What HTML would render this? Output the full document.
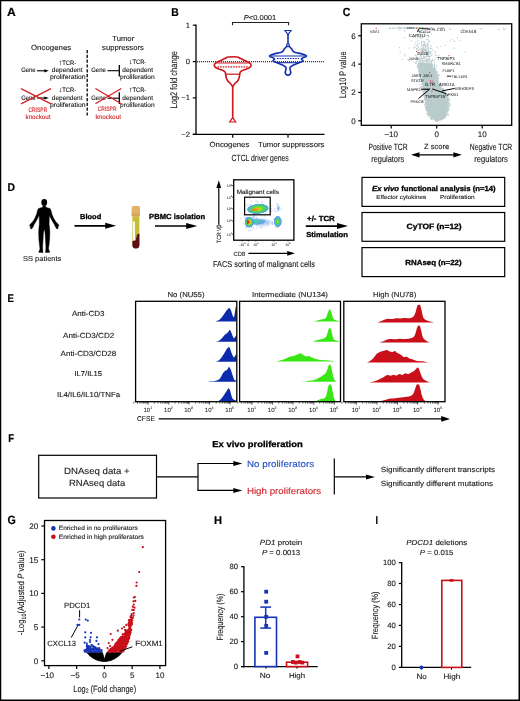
<!DOCTYPE html>
<html><head><meta charset="utf-8"><title>Figure</title>
<style>html,body{margin:0;padding:0;background:#fff}svg{display:block}text{font-family:"Liberation Sans", sans-serif;text-rendering:geometricPrecision}</style>
</head><body>
<svg width="520" height="701" viewBox="0 0 520 701">
<rect x="0" y="0" width="520" height="701" fill="#fff"/>
<path d="M0 0H520V701H0Z M1.25 1.25V699.45H518.5V1.25Z" fill="#000" fill-rule="evenodd"/>
<text x="7.00" y="15.90" font-size="11.74" textLength="8.80" lengthAdjust="spacingAndGlyphs" font-weight="bold" fill="#000" stroke="#000" stroke-width="0.2">A</text>
<text x="171.20" y="15.80" font-size="11.2" textLength="7.50" lengthAdjust="spacingAndGlyphs" font-weight="bold" fill="#000" stroke="#000" stroke-width="0.2">B</text>
<text x="342.70" y="16.00" font-size="11.8" textLength="7.60" lengthAdjust="spacingAndGlyphs" font-weight="bold" fill="#000" stroke="#000" stroke-width="0.2">C</text>
<text x="7.60" y="191.40" font-size="11.2" textLength="7.50" lengthAdjust="spacingAndGlyphs" font-weight="bold" fill="#000" stroke="#000" stroke-width="0.2">D</text>
<text x="7.60" y="301.60" font-size="11.2" textLength="6.40" lengthAdjust="spacingAndGlyphs" font-weight="bold" fill="#000" stroke="#000" stroke-width="0.2">E</text>
<text x="8.30" y="441.90" font-size="11.2" textLength="5.80" lengthAdjust="spacingAndGlyphs" font-weight="bold" fill="#000" stroke="#000" stroke-width="0.2">F</text>
<text x="7.40" y="523.70" font-size="12" textLength="8.30" lengthAdjust="spacingAndGlyphs" font-weight="bold" fill="#000" stroke="#000" stroke-width="0.2">G</text>
<text x="214.00" y="523.80" font-size="11.2" textLength="8.00" lengthAdjust="spacingAndGlyphs" font-weight="bold" fill="#000" stroke="#000" stroke-width="0.2">H</text>
<text x="375.50" y="523.80" font-size="11.2" textLength="2.50" lengthAdjust="spacingAndGlyphs" font-weight="bold" fill="#000" stroke="#000" stroke-width="0.2">I</text>
<text x="31.00" y="49.60" font-size="7.47" textLength="40.20" lengthAdjust="spacingAndGlyphs" fill="#1c1a1b" stroke="#1c1a1b" stroke-width="0.12">Oncogenes</text>
<text x="112.30" y="40.80" font-size="7.37" textLength="21.90" lengthAdjust="spacingAndGlyphs" fill="#1c1a1b" stroke="#1c1a1b" stroke-width="0.12">Tumor</text>
<text x="102.10" y="49.60" font-size="7.36" textLength="41.70" lengthAdjust="spacingAndGlyphs" fill="#1c1a1b" stroke="#1c1a1b" stroke-width="0.12">suppressors</text>
<line x1="87.20" y1="50.00" x2="87.20" y2="116.00" stroke="#000" stroke-width="1.3" stroke-dasharray="3.2 1.6"/>
<text x="21.20" y="72.30" font-size="6.4" textLength="14.40" lengthAdjust="spacingAndGlyphs" fill="#1c1a1b" stroke="#1c1a1b" stroke-width="0.12">Gene</text>
<line x1="37.00" y1="70.80" x2="46.10" y2="70.80" stroke="#000" stroke-width="1.1" />
<path d="M48.80 70.80 L44.30 69.20 L44.30 72.40 Z" fill="#000"/>
<text x="58.80" y="64.60" font-size="6.4" textLength="17.40" lengthAdjust="spacingAndGlyphs" fill="#1c1a1b" stroke="#1c1a1b" stroke-width="0.12"><tspan font-size="7.6">↑</tspan>TCR-</text>
<text x="51.80" y="72.30" font-size="6.4" textLength="30.70" lengthAdjust="spacingAndGlyphs" fill="#1c1a1b" stroke="#1c1a1b" stroke-width="0.12">dependent</text>
<text x="50.00" y="79.20" font-size="6.63" textLength="35.60" lengthAdjust="spacingAndGlyphs" fill="#1c1a1b" stroke="#1c1a1b" stroke-width="0.12">proliferation</text>
<text x="21.20" y="99.60" font-size="6.4" textLength="14.40" lengthAdjust="spacingAndGlyphs" fill="#1c1a1b" stroke="#1c1a1b" stroke-width="0.12">Gene</text>
<line x1="37.00" y1="98.00" x2="46.10" y2="98.00" stroke="#000" stroke-width="1.1" />
<path d="M48.80 98.00 L44.30 96.40 L44.30 99.60 Z" fill="#000"/>
<text x="58.80" y="91.80" font-size="6.4" textLength="17.40" lengthAdjust="spacingAndGlyphs" fill="#1c1a1b" stroke="#1c1a1b" stroke-width="0.12"><tspan font-size="7.6">↓</tspan>TCR-</text>
<text x="51.80" y="99.60" font-size="6.4" textLength="30.70" lengthAdjust="spacingAndGlyphs" fill="#1c1a1b" stroke="#1c1a1b" stroke-width="0.12">dependent</text>
<text x="50.00" y="106.80" font-size="6.63" textLength="35.60" lengthAdjust="spacingAndGlyphs" fill="#1c1a1b" stroke="#1c1a1b" stroke-width="0.12">proliferation</text>
<line x1="21.00" y1="88.70" x2="51.00" y2="103.80" stroke="#d2232a" stroke-width="1.3" />
<line x1="21.00" y1="103.80" x2="51.00" y2="88.70" stroke="#d2232a" stroke-width="1.3" />
<text x="28.40" y="112.00" font-size="6.4" textLength="18.90" lengthAdjust="spacingAndGlyphs" fill="#d2232a" stroke="#d2232a" stroke-width="0.12">CRISPR</text>
<text x="25.50" y="119.20" font-size="6.4" textLength="25.10" lengthAdjust="spacingAndGlyphs" fill="#d2232a" stroke="#d2232a" stroke-width="0.12">knockout</text>
<text x="91.20" y="72.30" font-size="6.4" textLength="14.60" lengthAdjust="spacingAndGlyphs" fill="#1c1a1b" stroke="#1c1a1b" stroke-width="0.12">Gene</text>
<line x1="107.50" y1="70.70" x2="119.20" y2="70.70" stroke="#000" stroke-width="1.1" />
<line x1="119.30" y1="65.00" x2="119.30" y2="76.40" stroke="#000" stroke-width="1.3" />
<text x="129.00" y="64.00" font-size="6.4" textLength="17.30" lengthAdjust="spacingAndGlyphs" fill="#1c1a1b" stroke="#1c1a1b" stroke-width="0.12"><tspan font-size="7.6">↓</tspan>TCR-</text>
<text x="122.30" y="72.30" font-size="6.4" textLength="30.70" lengthAdjust="spacingAndGlyphs" fill="#1c1a1b" stroke="#1c1a1b" stroke-width="0.12">dependent</text>
<text x="120.00" y="79.20" font-size="6.4" textLength="34.60" lengthAdjust="spacingAndGlyphs" fill="#1c1a1b" stroke="#1c1a1b" stroke-width="0.12">proliferation</text>
<text x="91.20" y="99.80" font-size="6.4" textLength="14.60" lengthAdjust="spacingAndGlyphs" fill="#1c1a1b" stroke="#1c1a1b" stroke-width="0.12">Gene</text>
<line x1="107.50" y1="98.20" x2="119.20" y2="98.20" stroke="#000" stroke-width="1.1" />
<line x1="119.30" y1="92.30" x2="119.30" y2="104.00" stroke="#000" stroke-width="1.3" />
<text x="129.00" y="91.50" font-size="6.4" textLength="17.30" lengthAdjust="spacingAndGlyphs" fill="#1c1a1b" stroke="#1c1a1b" stroke-width="0.12"><tspan font-size="7.6">↑</tspan>TCR-</text>
<text x="122.30" y="99.80" font-size="6.4" textLength="30.70" lengthAdjust="spacingAndGlyphs" fill="#1c1a1b" stroke="#1c1a1b" stroke-width="0.12">dependent</text>
<text x="120.00" y="106.80" font-size="6.4" textLength="34.60" lengthAdjust="spacingAndGlyphs" fill="#1c1a1b" stroke="#1c1a1b" stroke-width="0.12">proliferation</text>
<line x1="95.40" y1="88.50" x2="121.30" y2="103.80" stroke="#d2232a" stroke-width="1.3" />
<line x1="95.40" y1="103.80" x2="121.30" y2="88.50" stroke="#d2232a" stroke-width="1.3" />
<text x="97.70" y="111.40" font-size="6.4" textLength="18.80" lengthAdjust="spacingAndGlyphs" fill="#d2232a" stroke="#d2232a" stroke-width="0.12">CRISPR</text>
<text x="95.40" y="119.20" font-size="6.4" textLength="25.60" lengthAdjust="spacingAndGlyphs" fill="#d2232a" stroke="#d2232a" stroke-width="0.12">knockout</text>
<line x1="196.00" y1="24.60" x2="196.00" y2="134.90" stroke="#000" stroke-width="1.3" />
<line x1="192.80" y1="134.30" x2="324.50" y2="134.30" stroke="#000" stroke-width="1.3" />
<line x1="192.80" y1="25.20" x2="196.00" y2="25.20" stroke="#000" stroke-width="1.2" />
<text x="189.90" y="27.60" font-size="7.6" text-anchor="end" fill="#1c1a1b" stroke="#1c1a1b" stroke-width="0.12">1</text>
<line x1="192.80" y1="61.60" x2="196.00" y2="61.60" stroke="#000" stroke-width="1.2" />
<text x="189.90" y="64.00" font-size="7.6" text-anchor="end" fill="#1c1a1b" stroke="#1c1a1b" stroke-width="0.12">0</text>
<line x1="192.80" y1="97.90" x2="196.00" y2="97.90" stroke="#000" stroke-width="1.2" />
<text x="189.90" y="100.30" font-size="7.6" text-anchor="end" fill="#1c1a1b" stroke="#1c1a1b" stroke-width="0.12">−1</text>
<line x1="192.80" y1="134.30" x2="196.00" y2="134.30" stroke="#000" stroke-width="1.2" />
<text x="189.90" y="136.70" font-size="7.6" text-anchor="end" fill="#1c1a1b" stroke="#1c1a1b" stroke-width="0.12">−2</text>
<line x1="232.70" y1="134.30" x2="232.70" y2="137.80" stroke="#000" stroke-width="1.2" />
<line x1="288.00" y1="134.30" x2="288.00" y2="137.80" stroke="#000" stroke-width="1.2" />
<line x1="197.00" y1="61.70" x2="324.50" y2="61.70" stroke="#000" stroke-width="1.1" stroke-dasharray="1.1 0.9"/>
<text transform="translate(176.60 108.50) rotate(-90)" font-size="9.6" textLength="57.40" lengthAdjust="spacingAndGlyphs" fill="#1c1a1b" stroke="#1c1a1b" stroke-width="0.12">Log2 fold change</text>
<text x="209.50" y="146.60" font-size="7.38" textLength="39.80" lengthAdjust="spacingAndGlyphs" fill="#1c1a1b" stroke="#1c1a1b" stroke-width="0.12">Oncogenes</text>
<text x="258.00" y="146.60" font-size="7.36" textLength="66.40" lengthAdjust="spacingAndGlyphs" fill="#1c1a1b" stroke="#1c1a1b" stroke-width="0.12">Tumor suppressors</text>
<text x="231.50" y="161.20" font-size="9" textLength="57.30" lengthAdjust="spacingAndGlyphs" fill="#1c1a1b" stroke="#1c1a1b" stroke-width="0.12">CTCL driver genes</text>
<path d="M232.5 25.2 V22.5 H288.6 V25.2" stroke="#222" stroke-width="1.1" fill="none" />
<text x="243.70" y="20.40" font-size="7.13" textLength="32.60" lengthAdjust="spacingAndGlyphs" fill="#1c1a1b" stroke="#1c1a1b" stroke-width="0.12"><tspan font-style="italic">P</tspan>&lt;0.0001</text>
<path d="M232.20 85.80 C231.66 85.34 231.38 84.48 230.50 83.50 C229.62 82.52 228.62 81.96 227.80 80.90 C226.98 79.84 226.82 79.46 226.40 78.20 C225.98 76.94 226.00 75.88 225.70 74.60 C225.40 73.32 225.66 72.70 224.90 71.80 C224.14 70.90 223.60 70.86 221.90 70.10 C220.20 69.34 217.92 68.88 216.40 68.00 C214.88 67.12 214.48 66.66 214.30 65.70 C214.12 64.74 214.32 64.18 215.50 63.20 C216.68 62.22 218.36 61.72 220.20 60.80 C222.04 59.88 223.02 59.35 224.70 58.60 C226.38 57.85 226.18 57.36 228.60 57.05 C231.02 56.74 234.38 56.74 236.80 57.05 C239.22 57.36 239.02 57.85 240.70 58.60 C242.38 59.35 243.36 59.88 245.20 60.80 C247.04 61.72 248.72 62.22 249.90 63.20 C251.08 64.18 251.28 64.74 251.10 65.70 C250.92 66.66 250.52 67.12 249.00 68.00 C247.48 68.88 245.20 69.34 243.50 70.10 C241.80 70.86 241.26 70.90 240.50 71.80 C239.74 72.70 240.00 73.32 239.70 74.60 C239.40 75.88 239.42 76.94 239.00 78.20 C238.58 79.46 238.42 79.84 237.60 80.90 C236.78 81.96 235.78 82.52 234.90 83.50 C234.02 84.48 233.74 85.34 233.20 85.80 C232.66 86.26 232.74 86.26 232.20 85.80 Z" stroke="#d2141c" stroke-width="1.65" fill="none" stroke-linejoin="round"/>
<line x1="232.70" y1="85.60" x2="232.70" y2="118.50" stroke="#d2141c" stroke-width="1.65" />
<path d="M229.7 122 L235.7 122 L232.7 117.6 Z" stroke="#d2141c" stroke-width="1.2" fill="#fff" />
<line x1="225.70" y1="74.20" x2="239.70" y2="74.20" stroke="#d2141c" stroke-width="1.2" />
<line x1="216.30" y1="63.00" x2="249.10" y2="63.00" stroke="#d2141c" stroke-width="1.1" />
<line x1="217.50" y1="66.80" x2="247.90" y2="66.80" stroke="#d2141c" stroke-width="1.3" stroke-dasharray="1.6 1"/>
<path d="M287.20 75.10 C286.41 74.70 285.80 74.36 285.40 73.40 C285.00 72.44 285.36 72.03 285.50 71.00 C285.64 69.97 285.93 69.86 286.00 69.00 C286.07 68.14 286.24 68.02 285.80 67.30 C285.36 66.58 285.20 66.58 284.10 65.90 C283.00 65.22 282.87 65.17 281.10 64.40 C279.33 63.63 278.39 63.42 276.50 62.60 C274.61 61.78 273.44 61.74 273.00 60.90 C272.56 60.06 274.69 59.77 274.60 59.00 C274.51 58.23 273.77 58.35 272.60 57.60 C271.43 56.85 269.16 56.66 269.60 55.80 C270.04 54.94 271.93 54.67 274.50 53.90 C277.07 53.13 278.59 53.18 280.60 52.50 C282.61 51.82 282.26 51.82 283.10 51.00 C283.94 50.18 283.52 49.89 284.20 49.00 C284.88 48.11 285.25 47.83 286.00 47.20 C286.75 46.57 286.79 46.51 287.40 46.30 C288.01 46.09 287.99 46.09 288.60 46.30 C289.21 46.51 289.25 46.57 290.00 47.20 C290.75 47.83 291.12 48.11 291.80 49.00 C292.48 49.89 292.06 50.18 292.90 51.00 C293.74 51.82 293.39 51.82 295.40 52.50 C297.41 53.18 298.93 53.13 301.50 53.90 C304.07 54.67 305.96 54.94 306.40 55.80 C306.84 56.66 304.57 56.85 303.40 57.60 C302.23 58.35 301.49 58.23 301.40 59.00 C301.31 59.77 303.44 60.06 303.00 60.90 C302.56 61.74 301.39 61.78 299.50 62.60 C297.61 63.42 296.67 63.63 294.90 64.40 C293.13 65.17 293.00 65.22 291.90 65.90 C290.80 66.58 290.64 66.58 290.20 67.30 C289.76 68.02 289.93 68.14 290.00 69.00 C290.07 69.86 290.36 69.97 290.50 71.00 C290.64 72.03 291.00 72.44 290.60 73.40 C290.20 74.36 289.59 74.70 288.80 75.10 C288.01 75.50 287.99 75.50 287.20 75.10 Z" stroke="#1431b2" stroke-width="1.65" fill="none" stroke-linejoin="round"/>
<line x1="288.00" y1="33.80" x2="288.00" y2="43.60" stroke="#1431b2" stroke-width="1.6" />
<circle cx="288.0" cy="45" r="1.3" fill="#fff" stroke="#1431b2" stroke-width="1.2"/>
<path d="M285.0 30.5 L291.0 30.5 L288.0 34.6 Z" stroke="#1431b2" stroke-width="1.2" fill="#fff" />
<line x1="271.00" y1="56.00" x2="305.00" y2="56.00" stroke="#1431b2" stroke-width="1.1" />
<line x1="276.50" y1="62.70" x2="299.50" y2="62.70" stroke="#1431b2" stroke-width="1.1" />
<line x1="277.00" y1="58.50" x2="299.00" y2="58.50" stroke="#1431b2" stroke-width="1.2" stroke-dasharray="1.6 1"/>
<path d="M435.9 121.4 L432.6 118.0 L430.2 115.2 L428.0 110.0 L427.0 106.5 L426.5 102.0 L426.0 97.9 L425.2 93.0 L424.4 89.2 L423.5 85.0 L422.7 80.6 L421.5 76.0 L420.5 71.9 L420.0 67.0 L419.5 63.3 L430.0 63.3 L432.5 67.0 L435.5 71.9 L436.2 76.0 L436.8 80.6 L439.0 85.0 L441.7 89.2 L444.5 93.0 L447.0 97.9 L447.6 102.0 L447.8 106.5 L447.0 110.0 L445.2 115.2 L443.2 118.0 L437.0 121.4 Z" fill="#b9cbcb" stroke="#b9cbcb" stroke-width="1" stroke-linejoin="round"/>
<path d="M442.8 88.9h0M444.6 92.1h0M419.4 73.8h0M418.5 68.6h0M433.7 68.4h0M441.9 119.0h0M447.7 100.4h0M424.9 93.3h0M419.6 74.1h0M441.5 88.3h0M446.1 92.7h0M424.2 89.2h0M440.9 119.9h0M421.1 81.2h0M422.1 79.7h0M427.2 111.3h0M444.4 117.6h0M429.9 114.9h0M431.9 118.9h0M426.4 107.4h0M418.1 68.2h0M419.7 70.0h0M419.8 69.0h0M424.7 95.0h0M437.2 74.1h0M418.9 69.9h0M419.2 75.4h0M437.4 80.5h0M420.2 75.2h0M435.2 69.0h0M421.0 75.4h0M421.4 80.1h0M433.6 68.4h0M421.7 84.4h0M430.2 117.7h0M419.7 73.7h0M445.5 114.8h0M448.7 105.2h0M437.2 74.4h0M422.8 87.2h0M431.8 65.5h0M438.4 77.9h0M424.9 97.1h0M418.3 67.2h0M446.4 95.0h0M429.5 115.3h0M419.1 64.2h0M420.5 73.3h0M423.9 95.7h0M443.5 118.9h0M448.0 102.5h0M431.1 64.3h0M449.4 103.0h0M443.2 90.6h0M438.6 81.4h0M448.6 105.1h0M448.6 105.1h0M440.7 83.2h0M447.4 114.4h0M447.4 112.3h0M424.6 98.7h0M434.0 67.8h0M440.6 119.6h0M449.0 105.0h0M442.9 88.3h0M432.3 65.0h0M424.1 90.6h0M448.5 98.1h0M421.2 77.8h0M419.4 74.8h0M447.8 114.7h0M438.4 81.8h0M420.1 74.6h0M426.9 113.2h0M424.7 96.4h0M447.9 110.8h0M448.0 103.6h0M423.5 88.9h0M420.3 75.4h0M438.2 81.2h0M433.1 119.0h0M428.9 112.8h0M448.6 103.5h0M417.6 64.4h0M423.8 89.1h0M419.5 71.3h0M424.8 99.0h0M448.6 109.1h0M425.6 102.1h0M419.3 63.9h0M426.4 103.8h0M425.4 102.8h0M448.8 98.1h0M428.6 114.7h0M445.5 116.2h0M448.2 98.8h0M440.5 84.7h0M430.1 116.8h0M425.7 100.2h0M449.5 99.7h0M439.3 75.4h0M445.5 93.7h0M438.1 81.5h0M419.1 68.0h0M445.7 94.5h0M427.5 109.2h0M426.4 108.7h0M418.6 71.3h0M445.3 92.6h0M430.1 116.9h0M431.4 117.1h0M438.2 79.8h0M425.2 99.5h0M421.4 81.0h0M447.3 111.2h0M430.5 118.2h0M424.2 95.8h0M425.5 97.6h0M431.1 118.3h0M424.2 95.2h0M425.2 102.5h0M444.0 117.6h0M421.1 78.6h0M448.1 109.6h0M423.9 90.3h0M429.1 115.8h0M426.8 107.5h0M425.6 102.3h0M439.8 83.4h0M419.0 70.3h0M420.5 77.5h0M423.0 84.6h0M424.6 93.3h0M424.5 99.5h0M447.2 111.6h0M448.6 105.3h0M428.7 114.5h0M438.6 75.7h0M429.2 113.6h0M420.1 78.0h0M427.9 110.5h0M440.5 86.1h0M418.4 64.3h0M430.4 118.2h0M445.6 92.0h0M420.8 74.0h0M418.8 69.3h0M425.0 95.5h0M419.0 73.8h0M427.7 115.9h0M434.4 66.8h0M422.3 81.8h0M424.8 92.5h0M448.0 103.0h0M420.6 73.6h0M419.8 74.4h0M423.3 92.4h0M449.1 103.3h0M424.9 99.0h0M442.3 119.0h0M436.7 77.9h0M425.7 109.5h0M446.4 114.1h0M425.1 106.7h0M425.9 104.3h0M418.3 63.9h0M447.7 99.5h0M423.6 101.1h0M448.7 100.7h0M440.0 120.0h0M448.1 103.1h0M447.3 98.2h0M421.1 77.9h0M423.0 84.6h0M437.8 77.5h0M443.6 118.1h0M440.4 119.7h0M447.2 97.2h0M432.6 65.9h0M419.5 72.9h0M424.7 98.0h0M445.2 93.2h0M422.3 84.0h0M438.0 79.4h0M422.4 80.1h0M436.1 72.2h0M439.5 85.4h0M441.3 119.4h0M434.1 67.5h0M432.3 118.5h0M444.9 93.0h0M443.2 118.8h0M424.9 97.5h0M420.2 74.8h0M423.5 93.2h0M423.6 89.1h0M425.3 96.3h0M441.3 119.9h0M424.9 104.9h0M449.2 107.8h0M422.5 83.7h0M448.0 96.8h0M426.7 106.0h0M448.5 115.2h0M419.5 65.5h0M424.7 98.6h0M423.8 94.0h0M446.3 94.5h0M423.0 84.5h0M448.9 105.5h0M419.3 67.5h0M425.5 106.9h0M423.4 87.4h0M448.5 100.4h0M422.6 81.7h0M421.4 87.5h0M434.2 68.8h0M425.2 95.3h0M426.2 102.2h0M436.7 75.4h0M419.6 67.9h0M420.5 79.3h0M438.9 83.6h0M448.3 103.5h0M446.3 115.4h0M426.9 108.8h0M420.5 81.3h0M420.7 77.4h0M422.3 84.0h0M436.8 74.4h0M426.6 108.5h0M437.2 73.3h0M427.9 113.2h0M445.5 94.2h0M443.4 118.1h0M445.7 94.3h0M419.7 68.1h0M435.7 68.1h0M435.9 71.5h0M437.0 75.8h0M445.4 92.9h0M443.6 118.2h0M424.3 91.3h0M428.3 115.2h0M448.4 110.1h0M448.6 110.6h0M445.4 117.6h0M427.2 108.8h0M423.6 87.1h0M419.9 84.6h0M420.3 74.9h0M416.9 66.7h0M434.5 69.8h0M419.1 66.8h0M447.0 96.4h0M420.6 73.8h0M437.1 76.6h0M420.3 73.8h0M436.4 73.1h0M426.4 109.6h0M437.5 78.1h0M445.9 94.3h0M422.0 90.7h0M426.6 108.7h0M424.5 93.2h0M422.8 100.6h0M418.0 63.9h0M449.3 103.7h0M420.0 72.2h0M428.1 112.6h0M447.6 99.4h0M437.0 71.8h0M431.4 63.4h0M418.2 68.0h0M425.3 103.9h0M443.9 117.5h0M428.3 111.9h0M429.0 115.3h0M426.6 110.2h0M436.1 72.2h0M421.7 81.0h0M442.8 89.8h0M439.4 83.7h0M442.8 89.5h0M448.1 110.3h0M426.4 103.6h0M422.0 95.3h0M427.2 108.6h0M424.9 98.2h0M421.4 80.2h0M439.6 85.5h0M425.9 104.8h0M444.4 116.9h0M426.9 110.2h0M419.5 71.3h0M419.1 73.5h0M447.6 110.8h0M420.0 72.2h0M422.6 86.4h0M444.7 92.3h0M448.7 106.8h0M423.0 86.7h0M441.8 86.0h0M447.8 100.7h0M418.6 64.4h0M418.7 69.3h0M444.8 92.2h0M437.1 72.3h0M428.9 114.5h0M436.4 71.3h0M433.2 119.3h0M438.2 74.5h0M425.2 98.9h0M446.6 96.0h0M438.5 82.0h0M435.7 70.3h0M436.5 71.0h0M425.0 95.1h0M446.1 114.9h0M436.1 70.3h0M437.0 79.7h0M426.5 110.4h0M424.5 94.4h0M441.2 119.3h0M425.3 100.6h0M440.8 84.9h0M427.1 108.9h0M419.1 71.4h0M424.6 95.6h0M425.3 95.5h0M425.7 99.7h0M444.2 117.7h0M423.2 89.9h0M449.2 106.3h0M444.2 90.8h0M421.8 86.5h0M447.2 95.4h0M441.2 87.8h0M422.3 81.5h0M450.3 104.8h0M426.4 105.9h0M419.9 70.4h0M423.1 91.8h0M424.5 93.1h0M422.5 80.7h0M445.9 115.0h0M449.4 101.0h0M437.3 75.9h0M447.5 95.4h0M419.0 70.3h0M431.7 117.2h0M421.8 81.7h0M446.6 114.1h0M424.9 96.5h0M431.9 65.1h0M445.9 116.3h0M423.7 90.1h0M427.2 114.1h0M427.5 110.8h0M446.2 113.2h0M437.0 74.8h0M417.6 66.1h0M424.8 104.5h0M425.2 103.7h0M448.3 102.8h0M421.1 76.0h0M426.1 103.6h0M448.4 101.0h0M440.0 84.4h0M420.4 76.3h0M445.2 115.8h0M435.1 68.4h0M423.7 88.3h0M425.6 97.3h0M437.4 77.5h0M426.3 106.1h0M421.2 79.1h0M431.5 119.3h0M444.0 89.5h0M423.0 91.6h0M446.7 94.8h0M425.9 107.7h0M444.5 92.0h0M430.5 117.3h0M426.5 107.5h0M441.8 88.3h0M447.8 107.9h0M437.6 75.8h0M423.3 91.6h0M447.1 95.8h0M419.4 73.5h0M423.8 87.9h0M438.8 78.2h0M424.4 95.6h0M426.7 108.2h0M418.9 65.7h0M425.7 98.5h0M435.0 68.3h0M419.7 73.0h0M448.5 110.4h0M419.3 66.8h0M432.1 118.3h0M443.9 91.1h0M441.9 89.1h0M419.1 65.5h0M423.0 85.6h0M420.2 87.4h0M448.8 106.6h0M420.6 76.3h0M442.4 89.5h0M421.6 83.9h0M419.4 65.5h0M425.1 100.1h0M447.8 112.3h0M427.6 113.6h0M440.5 84.9h0M420.6 75.5h0M419.2 72.6h0M420.7 75.5h0M441.6 119.6h0M421.5 58.5h0M425.6 61.1h0M419.6 60.2h0M425.5 65.5h0M427.9 60.5h0M428.3 35.8h0M420.2 63.1h0M426.5 59.7h0M422.1 51.2h0M415.8 63.3h0M423.8 63.1h0M428.7 58.7h0M426.8 35.5h0M431.1 52.7h0M424.0 60.3h0M426.3 56.1h0M424.8 56.6h0M423.6 62.4h0M429.1 59.2h0M423.3 57.2h0M420.3 62.4h0M416.5 62.1h0M426.9 59.1h0M432.4 60.9h0M426.4 52.1h0M421.4 57.9h0M429.0 61.9h0M426.0 65.0h0M424.2 42.3h0M420.3 37.7h0M423.2 51.9h0M414.8 47.7h0M432.0 60.5h0M414.2 44.8h0M421.4 57.6h0M422.6 61.0h0M425.8 50.7h0M425.4 50.5h0M429.2 56.6h0M427.5 64.1h0M426.7 50.2h0M430.0 53.4h0M426.9 65.5h0M428.4 56.3h0M428.9 52.9h0M417.9 59.5h0M423.3 64.9h0M426.7 53.4h0M425.5 50.0h0M425.3 47.3h0M421.0 49.6h0M427.7 60.1h0M424.4 50.5h0M420.0 48.9h0M432.4 64.1h0M429.4 58.5h0M416.9 34.3h0M428.4 51.5h0M420.8 38.7h0M419.1 49.5h0M426.3 51.1h0M433.9 60.8h0M420.7 53.9h0M423.5 62.0h0M428.1 52.7h0M428.8 60.2h0M423.6 56.4h0M427.8 61.7h0M420.8 60.7h0M423.5 44.7h0M426.3 56.1h0M423.5 41.4h0M421.6 43.3h0M420.4 36.2h0M422.9 51.0h0M430.9 45.8h0M431.2 55.5h0M416.9 57.3h0M421.4 35.1h0M429.5 53.2h0M423.7 44.1h0M427.0 56.5h0M417.7 65.9h0M428.6 65.0h0M427.2 61.2h0M423.8 57.2h0M425.0 60.1h0M427.4 44.7h0M427.1 51.9h0M418.3 63.3h0M431.3 48.2h0M423.0 62.1h0M431.0 65.5h0M419.2 61.1h0M420.4 63.3h0M419.7 62.8h0M430.6 51.6h0M416.6 48.4h0M421.7 49.8h0M417.2 59.7h0M416.5 51.1h0M427.2 54.3h0M420.9 60.0h0M425.3 64.9h0M418.6 31.3h0M423.6 57.0h0M419.2 59.2h0M420.3 54.4h0M418.6 28.9h0M421.8 64.0h0M424.8 52.5h0M407.9 59.6h0M426.9 54.9h0M424.3 45.0h0M424.2 49.7h0M432.1 54.9h0M420.6 58.7h0M427.5 47.7h0M409.5 61.4h0M427.8 45.9h0M421.1 36.8h0M426.7 59.6h0M428.3 35.0h0M430.9 65.8h0M426.9 55.1h0M424.1 44.2h0M428.9 51.2h0M428.3 64.2h0M424.2 49.9h0M426.3 65.7h0M425.8 33.0h0M426.4 63.5h0M429.4 58.0h0M423.9 54.6h0M419.8 52.9h0M426.8 39.5h0M425.4 61.4h0M421.4 42.4h0M421.2 56.2h0M420.2 34.5h0M423.4 47.6h0M417.3 52.3h0M425.5 64.2h0M426.6 61.8h0M425.8 51.7h0M419.7 65.7h0M424.3 63.5h0M436.0 55.3h0M423.8 45.2h0M415.9 54.9h0M418.9 64.4h0M415.3 55.6h0M409.1 60.5h0M427.9 32.4h0M427.2 44.3h0M436.6 65.9h0M424.2 43.9h0M429.7 63.6h0M428.5 49.1h0M419.6 60.0h0M420.5 55.7h0M435.1 59.3h0M426.5 62.7h0M430.4 51.8h0M432.4 59.3h0M421.5 41.4h0M426.6 62.5h0M427.6 56.2h0M424.7 63.9h0M423.6 48.7h0M429.6 56.8h0M423.0 55.0h0M421.0 55.1h0M421.8 65.8h0M423.2 48.0h0M423.1 54.4h0M427.0 43.7h0M427.9 60.0h0M413.9 47.8h0M427.3 61.3h0M431.4 34.0h0M429.1 51.6h0M428.1 48.4h0M431.2 60.5h0M418.1 40.5h0M419.8 52.1h0M423.1 58.4h0M417.7 52.4h0M425.1 41.9h0M426.0 51.4h0M431.6 63.1h0M421.2 47.6h0M424.5 42.6h0M425.3 44.5h0M418.2 33.4h0M428.4 55.0h0M422.8 38.2h0M431.3 55.3h0M423.3 48.8h0M422.2 60.0h0M423.2 46.3h0M434.5 62.8h0M415.5 42.3h0M416.4 51.5h0M421.9 29.5h0M418.5 47.6h0M434.5 65.9h0M425.0 45.8h0M421.6 58.5h0M431.7 61.5h0M426.0 46.6h0M418.3 61.4h0M434.2 64.4h0M417.5 48.1h0M420.5 30.8h0M421.4 63.2h0M426.0 60.8h0M424.7 50.8h0M417.4 44.7h0M426.3 58.0h0M428.3 40.7h0M417.5 38.8h0M427.7 35.1h0M417.2 42.1h0M420.8 64.4h0M419.4 57.1h0M424.1 50.6h0M430.4 56.4h0M431.4 61.9h0M421.2 62.4h0M428.5 47.9h0M424.6 57.3h0M428.9 35.8h0M421.0 53.7h0M437.2 47.7h0M416.5 56.1h0M427.3 56.6h0M425.6 58.0h0M420.2 53.9h0M419.4 58.6h0M424.9 46.5h0M422.2 51.4h0M420.6 62.4h0M422.0 53.8h0M421.1 56.3h0M418.2 50.4h0M424.7 28.0h0M428.0 44.7h0M420.7 51.1h0M425.6 49.7h0M430.0 62.4h0M422.7 52.4h0M417.0 57.4h0M430.1 65.4h0M429.7 41.6h0M430.3 65.8h0M430.7 48.9h0M418.7 52.6h0M423.5 58.5h0M422.9 60.2h0M427.5 55.2h0M416.5 61.7h0M431.2 45.8h0M424.0 62.5h0M419.9 53.2h0M428.0 53.7h0M430.7 55.8h0M417.2 30.5h0M421.4 42.4h0M417.7 54.3h0M408.8 48.1h0M425.7 48.7h0M427.2 45.8h0M438.6 55.7h0M429.2 61.9h0M427.8 55.4h0M422.2 65.6h0M429.9 53.7h0M418.5 46.0h0M434.5 65.3h0M415.2 62.5h0M427.4 52.0h0M423.5 32.5h0M420.3 32.0h0M424.4 50.4h0M422.3 45.5h0M428.1 43.0h0M430.0 59.6h0M427.9 50.4h0M425.9 61.0h0M423.5 51.9h0M420.4 63.8h0M425.2 61.1h0M430.0 62.2h0M421.8 48.4h0M422.3 61.3h0M421.8 60.2h0M422.5 45.6h0M426.9 46.5h0M415.6 37.3h0M424.8 63.9h0M430.4 48.1h0M415.9 63.4h0M428.9 54.4h0M424.5 57.9h0M435.4 52.1h0M416.9 45.5h0M425.0 49.1h0M425.7 54.4h0M428.5 36.9h0M429.1 56.6h0M416.0 45.9h0M421.6 45.2h0M422.6 29.2h0M426.5 54.7h0M420.2 65.1h0M427.7 53.9h0M424.3 50.2h0M425.8 49.1h0M425.1 35.2h0M425.6 46.7h0M422.3 49.6h0M426.9 64.7h0M427.1 55.8h0M424.2 53.8h0M418.1 65.9h0M423.9 48.7h0M424.3 64.0h0M417.9 30.0h0M428.4 50.8h0M423.3 36.9h0M441.1 46.5h0M419.3 43.4h0M434.2 51.9h0M399.9 30.1h0M414.6 35.9h0M454.9 41.0h0M459.6 40.3h0M417.1 49.4h0M402.3 59.5h0M457.5 37.8h0M419.5 54.0h0M454.3 48.2h0M400.2 52.2h0M399.5 47.6h0M436.9 57.6h0M443.3 27.7h0M465.1 51.8h0M438.9 27.2h0M450.5 40.8h0M446.3 59.5h0M463.8 29.5h0M453.8 41.5h0M451.6 39.5h0M429.1 41.4h0M404.7 37.6h0M450.4 29.4h0M404.6 54.5h0M445.3 45.1h0M404.4 30.9h0M418.9 58.5h0M437.5 57.4h0M411.6 40.7h0M435.7 54.7h0M405.1 55.8h0M431.0 28.0h0M428.0 39.5h0M445.9 57.6h0M432.5 49.8h0M424.7 52.7h0M392.6 28.2h0M395.3 28.0h0M396.9 27.8h0M395.2 27.8h0M414.0 28.0h0M405.1 28.0h0M425.1 27.8h0M413.7 27.9h0M431.1 27.8h0M418.7 27.7h0M399.5 28.2h0M413.3 27.7h0M390.8 28.3h0M404.6 28.2h0M407.0 28.1h0M412.6 28.5h0M428.0 27.9h0M409.4 27.7h0M421.1 27.5h0M401.5 28.3h0M389.5 28.2h0M413.0 28.0h0M402.7 27.6h0M429.8 28.2h0M423.5 27.5h0M422.5 27.6h0M396.8 28.0h0M414.8 27.5h0M421.7 28.0h0M427.6 28.4h0M418.3 27.8h0M429.8 28.2h0M400.8 28.3h0M420.0 27.7h0M399.0 27.4h0M411.6 27.7h0M400.9 27.7h0M393.8 27.9h0M400.0 27.7h0M400.2 28.0h0M426.4 27.6h0M425.8 28.3h0M414.8 28.0h0M420.3 28.0h0M417.0 28.4h0M422.1 27.7h0M390.4 28.4h0M404.0 28.3h0M398.3 27.9h0M404.3 28.2h0M429.5 28.0h0M412.9 27.8h0M398.2 28.4h0M392.9 28.4h0M416.9 27.5h0M427.7 27.5h0M412.9 27.5h0M431.5 27.7h0M426.4 27.5h0M417.3 27.5h0M389.3 28.0h0M431.2 28.2h0M425.6 28.3h0M410.9 27.5h0M411.2 27.6h0M411.2 27.8h0M410.0 27.6h0M419.0 27.9h0M409.4 27.5h0M409.4 28.0h0M506.1 28.6h0M449.2 28.1h0M462.8 28.8h0M503.8 29.4h0M504.6 29.3h0M498.4 29.3h0M441.4 28.4h0M480.2 28.8h0M481.7 28.7h0M503.5 27.7h0M475.3 29.3h0M442.2 27.7h0M499.1 29.3h0M441.6 27.6h0" stroke="#b9cbcb" stroke-width="1.24" stroke-linecap="round" fill="none"/>
<line x1="404.00" y1="27.90" x2="417.00" y2="27.90" stroke="#a9c4c8" stroke-width="1.0" />
<rect x="361.30" y="23.80" width="150.40" height="101.50" stroke="#000" stroke-width="1.3" fill="none" />
<line x1="358.20" y1="120.80" x2="361.30" y2="120.80" stroke="#000" stroke-width="1.2" />
<text x="355.60" y="123.70" font-size="8" text-anchor="end" fill="#1c1a1b" stroke="#1c1a1b" stroke-width="0.12">0</text>
<line x1="358.20" y1="92.46" x2="361.30" y2="92.46" stroke="#000" stroke-width="1.2" />
<text x="355.60" y="95.36" font-size="8" text-anchor="end" fill="#1c1a1b" stroke="#1c1a1b" stroke-width="0.12">2</text>
<line x1="358.20" y1="64.12" x2="361.30" y2="64.12" stroke="#000" stroke-width="1.2" />
<text x="355.60" y="67.02" font-size="8" text-anchor="end" fill="#1c1a1b" stroke="#1c1a1b" stroke-width="0.12">4</text>
<line x1="358.20" y1="35.78" x2="361.30" y2="35.78" stroke="#000" stroke-width="1.2" />
<text x="355.60" y="38.68" font-size="8" text-anchor="end" fill="#1c1a1b" stroke="#1c1a1b" stroke-width="0.12">6</text>
<line x1="391.20" y1="125.30" x2="391.20" y2="128.50" stroke="#000" stroke-width="1.2" />
<text x="391.20" y="137.40" font-size="8" text-anchor="middle" fill="#1c1a1b" stroke="#1c1a1b" stroke-width="0.12">−10</text>
<line x1="436.70" y1="125.30" x2="436.70" y2="128.50" stroke="#000" stroke-width="1.2" />
<text x="436.70" y="137.40" font-size="8" text-anchor="middle" fill="#1c1a1b" stroke="#1c1a1b" stroke-width="0.12">0</text>
<line x1="482.20" y1="125.30" x2="482.20" y2="128.50" stroke="#000" stroke-width="1.2" />
<text x="482.20" y="137.40" font-size="8" text-anchor="middle" fill="#1c1a1b" stroke="#1c1a1b" stroke-width="0.12">10</text>
<text transform="translate(345.70 98.00) rotate(-90)" font-size="9.6" textLength="46.50" lengthAdjust="spacingAndGlyphs" fill="#1c1a1b" stroke="#1c1a1b" stroke-width="0.12">Log10 P value</text>
<text x="424.10" y="148.50" font-size="7.6" textLength="25.10" lengthAdjust="spacingAndGlyphs" fill="#1c1a1b" stroke="#1c1a1b" stroke-width="0.12">Z score</text>
<text x="368.40" y="150.30" font-size="9" textLength="39.10" lengthAdjust="spacingAndGlyphs" fill="#1c1a1b" stroke="#1c1a1b" stroke-width="0.12">Positive TCR</text>
<text x="371.20" y="162.30" font-size="9" textLength="33.00" lengthAdjust="spacingAndGlyphs" fill="#1c1a1b" stroke="#1c1a1b" stroke-width="0.12">regulators</text>
<text x="469.80" y="150.30" font-size="9" textLength="42.40" lengthAdjust="spacingAndGlyphs" fill="#1c1a1b" stroke="#1c1a1b" stroke-width="0.12">Negative TCR</text>
<text x="474.30" y="162.30" font-size="9" textLength="33.60" lengthAdjust="spacingAndGlyphs" fill="#1c1a1b" stroke="#1c1a1b" stroke-width="0.12">regulators</text>
<line x1="416.00" y1="154.80" x2="457.00" y2="154.80" stroke="#000" stroke-width="1.3" />
<path d="M411 154.8 L419.5 152.2 L419.5 157.4 Z M461.9 154.8 L453.4 152.2 L453.4 157.4 Z" fill="#000"/>
<text transform="translate(369.80 32.70) scale(0.1)" font-size="39.900000000000006" fill="#111" stroke="#111" stroke-width="0.04">VAV1</text>
<text transform="translate(406.80 28.60) scale(0.1)" font-size="30.099999999999998" fill="#111" stroke="#111" stroke-width="0.04">JAK1</text>
<text transform="translate(431.60 30.70) scale(0.1)" font-size="41.5" fill="#111" stroke="#111" stroke-width="0.04">PLCG1</text>
<text transform="translate(418.80 32.70) scale(0.1)" font-size="31.099999999999998" fill="#111" stroke="#111" stroke-width="0.04">NFATC2</text>
<text transform="translate(408.80 37.30) scale(0.1)" font-size="43.9" fill="#111" stroke="#111" stroke-width="0.04">CARD11</text>
<text transform="translate(460.40 32.50) scale(0.1)" font-size="39.2" fill="#111" stroke="#111" stroke-width="0.04">CDKN1B</text>
<text transform="translate(417.50 54.60) scale(0.1)" font-size="40.7" fill="#111" stroke="#111" stroke-width="0.04">CD28</text>
<text transform="translate(408.80 60.20) scale(0.1)" font-size="36.800000000000004" fill="#111" stroke="#111" stroke-width="0.04">JUNB</text>
<text transform="translate(437.40 59.50) scale(0.1)" font-size="42.599999999999994" fill="#111" stroke="#111" stroke-width="0.04">TNFAIP3</text>
<text transform="translate(441.70 64.70) scale(0.1)" font-size="39.5" fill="#111" stroke="#111" stroke-width="0.04">SMARCB1</text>
<text transform="translate(442.60 72.30) scale(0.1)" font-size="37.5" fill="#111" stroke="#111" stroke-width="0.04">FUBP1</text>
<text transform="translate(451.40 77.50) scale(0.1)" font-size="37.599999999999994" fill="#111" stroke="#111" stroke-width="0.04">TBL1XR1</text>
<text transform="translate(411.40 76.80) scale(0.1)" font-size="40.199999999999996" fill="#111" stroke="#111" stroke-width="0.04">JAK3</text>
<text transform="translate(422.70 76.80) scale(0.1)" font-size="39.7" fill="#111" stroke="#111" stroke-width="0.04">JAK1</text>
<text transform="translate(410.90 81.80) scale(0.1)" font-size="39.8" fill="#111" stroke="#111" stroke-width="0.04">STAT3</text>
<text x="425.30" y="85.80" font-size="4.6" fill="#111" stroke="#111" stroke-width="0.04">IL7R</text>
<text transform="translate(439.10 85.80) scale(0.1)" font-size="43.2" fill="#111" stroke="#111" stroke-width="0.04">ARID1A</text>
<text transform="translate(407.10 90.60) scale(0.1)" font-size="41.0" fill="#111" stroke="#111" stroke-width="0.04">MAPK1</text>
<text transform="translate(454.70 89.70) scale(0.1)" font-size="40.199999999999996" fill="#111" stroke="#111" stroke-width="0.04">ARHGEF3</text>
<text transform="translate(445.20 95.60) scale(0.1)" font-size="40.300000000000004" fill="#111" stroke="#111" stroke-width="0.04">NFKB1</text>
<text transform="translate(425.30 98.20) scale(0.1)" font-size="38.5" fill="#111" stroke="#111" stroke-width="0.04">TNFRSF1B</text>
<text transform="translate(410.60 102.70) scale(0.1)" font-size="37.7" fill="#111" stroke="#111" stroke-width="0.04">PRKCB</text>
<line x1="417.50" y1="32.10" x2="419.20" y2="28.60" stroke="#000" stroke-width="1.0" />
<line x1="419.20" y1="28.30" x2="430.50" y2="29.20" stroke="#000" stroke-width="1.0" />
<line x1="421.00" y1="89.20" x2="429.60" y2="89.20" stroke="#000" stroke-width="1.1" />
<line x1="418.40" y1="98.70" x2="429.60" y2="89.20" stroke="#000" stroke-width="1.0" />
<line x1="432.20" y1="88.90" x2="446.00" y2="93.60" stroke="#000" stroke-width="1.0" />
<line x1="441.70" y1="91.00" x2="454.70" y2="88.40" stroke="#000" stroke-width="1.0" />
<line x1="446.90" y1="76.20" x2="451.20" y2="76.20" stroke="#000" stroke-width="0.9" />
<path d="M376.2 28.3h0M416.6 28.3h0M423.5 28.3h0M425.3 28.6h0M416.6 51.5h0M422.7 50.8h0M429.6 72.3h0M423.5 80.0h0M430.5 80.9h0M432.2 81.0h0M429.6 88.9h0M431.9 91.0h0M449.0 55.6h0" stroke="#e0202a" stroke-width="1.2" stroke-linecap="round" fill="none"/>
<path d="M420.0 28.1h0M421.3 28.2h0" stroke="#58d020" stroke-width="1.2" stroke-linecap="round" fill="none"/>
<g fill="#000"><ellipse cx="44.25" cy="202.4" rx="2.9" ry="3.3"/><path d="M45.70 205.40 L45.75 207.30 L48.25 207.90 L50.35 208.80 L51.05 210.80 L51.95 214.20 L53.65 218.20 L55.85 221.80 L58.55 224.60 L58.85 226.20 L57.85 226.40 L58.15 228.60 L56.85 229.00 L55.25 226.60 L54.65 225.00 L52.25 221.00 L50.15 217.00 L49.35 215.20 L49.25 219.00 L49.15 224.00 L49.65 228.60 L49.85 232.00 L49.65 239.00 L49.15 244.00 L48.55 248.40 L49.05 250.60 L49.85 251.80 L49.45 252.40 L45.45 252.40 L45.75 250.00 L45.85 246.00 L45.45 240.00 L45.15 234.00 L44.75 231.00 L44.25 229.60 L44.25 229.60 L43.75 231.00 L43.35 234.00 L43.05 240.00 L42.65 246.00 L42.75 250.00 L43.05 252.40 L39.05 252.40 L38.65 251.80 L39.45 250.60 L39.95 248.40 L39.35 244.00 L38.85 239.00 L38.65 232.00 L38.85 228.60 L39.35 224.00 L39.25 219.00 L39.15 215.20 L38.35 217.00 L36.25 221.00 L33.85 225.00 L33.25 226.60 L31.65 229.00 L30.35 228.60 L30.65 226.40 L29.65 226.20 L29.95 224.60 L32.65 221.80 L34.85 218.20 L36.55 214.20 L37.45 210.80 L38.15 208.80 L40.25 207.90 L42.75 207.30 L42.80 205.40 Z" stroke="#000" stroke-width="0.4" stroke-linejoin="round"/></g>
<text x="23.00" y="260.50" font-size="7.09" textLength="38.30" lengthAdjust="spacingAndGlyphs" fill="#1c1a1b" stroke="#1c1a1b" stroke-width="0.12">SS patients</text>
<text x="80.00" y="218.70" font-size="7.2" textLength="21.30" lengthAdjust="spacingAndGlyphs" font-weight="bold" fill="#000" stroke="#000" stroke-width="0.3">Blood</text>
<line x1="74.50" y1="225.80" x2="109.60" y2="225.80" stroke="#000" stroke-width="1.7" />
<path d="M116.20 225.80 L105.20 222.80 L105.20 228.80 Z" fill="#000"/>
<rect x="131.6" y="206" width="8.4" height="10.6" rx="1.6" fill="#e3b467"/>
<rect x="131.6" y="213.8" width="8.4" height="2.6" rx="0.8" fill="#d9a655"/>
<path d="M132.4 216.4 H139.4 V245 A3.5 3.5 0 0 1 132.4 245 Z" fill="#c5bd36"/>
<path d="M132.9 221.5 H135 V240.5 H132.9 Z" fill="#fbfbf2"/>
<path d="M132.4 241 L135.6 240.4 L137 234.6 L139.4 233.4 V245 A3.5 3.5 0 0 1 132.4 245 Z" fill="#5d1116"/>
<text x="149.10" y="218.60" font-size="7.27" textLength="56.10" lengthAdjust="spacingAndGlyphs" font-weight="bold" fill="#000" stroke="#000" stroke-width="0.3">PBMC isolation</text>
<line x1="155.00" y1="226.00" x2="190.60" y2="226.00" stroke="#000" stroke-width="1.7" />
<path d="M197.20 226.00 L186.20 223.00 L186.20 229.00 Z" fill="#000"/>
<defs>
<radialGradient id="hot1"><stop offset="0" stop-color="#f07a1c"/><stop offset="0.14" stop-color="#f2c81a"/><stop offset="0.3" stop-color="#8fdc28"/><stop offset="0.64" stop-color="#46cf5a"/><stop offset="0.8" stop-color="#3cc2c8"/><stop offset="0.92" stop-color="#4f86e6" stop-opacity="0.85"/><stop offset="1" stop-color="#7fb0f0" stop-opacity="0"/></radialGradient>
<radialGradient id="hot2"><stop offset="0" stop-color="#e8281c"/><stop offset="0.2" stop-color="#f2a21a"/><stop offset="0.34" stop-color="#d8dc28"/><stop offset="0.5" stop-color="#5fd43a"/><stop offset="0.7" stop-color="#3cc2c8"/><stop offset="0.87" stop-color="#4f86e6" stop-opacity="0.85"/><stop offset="1" stop-color="#7fb0f0" stop-opacity="0"/></radialGradient>
<radialGradient id="warm"><stop offset="0" stop-color="#b4e028"/><stop offset="0.3" stop-color="#5fd43a"/><stop offset="0.55" stop-color="#3cc2c8"/><stop offset="0.82" stop-color="#4f86e6" stop-opacity="0.8"/><stop offset="1" stop-color="#7fb0f0" stop-opacity="0"/></radialGradient>
<radialGradient id="tail"><stop offset="0" stop-color="#4fd070" stop-opacity="0.9"/><stop offset="0.4" stop-color="#3cc2c8" stop-opacity="0.85"/><stop offset="0.75" stop-color="#4f86e6" stop-opacity="0.6"/><stop offset="1" stop-color="#7fb0f0" stop-opacity="0"/></radialGradient>
<radialGradient id="cool"><stop offset="0" stop-color="#5f9cec" stop-opacity="0.7"/><stop offset="0.6" stop-color="#7fb0f0" stop-opacity="0.4"/><stop offset="1" stop-color="#9fc4f4" stop-opacity="0"/></radialGradient>
</defs>
<path d="M250.2 205.2h0M262.3 201.6h0M257.0 201.7h0M265.1 209.5h0M266.7 207.3h0M260.5 208.0h0M253.1 209.4h0M249.7 207.8h0M262.4 209.1h0M255.2 215.9h0M258.3 207.0h0M258.9 207.2h0M255.4 207.8h0M271.1 209.0h0M259.0 211.1h0M271.0 208.2h0M253.8 216.8h0M248.4 207.7h0M262.2 216.2h0M251.7 201.1h0M262.2 207.2h0M255.4 210.4h0M259.4 209.8h0M255.1 213.0h0M267.7 209.0h0M255.0 211.2h0M261.0 205.6h0M254.9 212.3h0M257.3 207.8h0M259.3 208.8h0M257.9 202.7h0M269.3 209.5h0M252.2 212.0h0M259.9 209.0h0M264.7 216.1h0M261.5 214.0h0M271.9 205.6h0M254.5 211.4h0M246.8 208.0h0M266.3 212.2h0M261.7 202.8h0M273.2 210.7h0M262.9 210.5h0M246.7 204.3h0M250.0 215.0h0M252.5 208.1h0M256.2 210.7h0M261.2 209.8h0M249.7 198.9h0M259.0 209.8h0M265.9 208.6h0M253.9 210.2h0M247.8 205.6h0M251.4 209.8h0M271.5 211.3h0M265.3 209.7h0M259.7 207.5h0M256.1 201.1h0M250.1 204.8h0M263.3 211.0h0M265.3 213.9h0M255.9 212.3h0M270.6 208.9h0M265.0 208.4h0M247.4 209.3h0M252.6 209.2h0M254.9 209.9h0M244.0 215.6h0M266.7 207.8h0M252.0 208.9h0M255.4 223.8h0M254.0 215.7h0M246.3 227.0h0M253.2 217.2h0M247.7 217.5h0M246.9 226.4h0M250.9 226.2h0M252.9 217.2h0M248.7 230.3h0M248.1 218.8h0M258.3 222.7h0M252.0 227.5h0M243.0 223.8h0M246.6 217.5h0M247.9 226.4h0M251.3 216.0h0M246.3 227.7h0M257.2 218.6h0M264.4 221.1h0M245.9 221.9h0M256.8 228.0h0M257.3 220.9h0M249.1 217.3h0M251.6 220.3h0M253.3 218.0h0M249.4 219.3h0M245.8 218.3h0M246.8 218.3h0M254.9 222.7h0M245.2 224.2h0M253.5 227.5h0M251.0 221.7h0M248.5 222.8h0M254.5 223.0h0M250.7 224.4h0M252.5 223.3h0M247.2 223.1h0M246.9 219.5h0M252.8 229.7h0M257.1 222.4h0M251.1 225.8h0M259.1 226.6h0M251.0 223.1h0M250.3 221.4h0M247.6 221.5h0M241.0 218.2h0M254.2 219.2h0M254.8 217.9h0M250.1 223.8h0M246.7 219.9h0M264.6 220.0h0M248.4 220.4h0M252.2 222.3h0M257.0 225.2h0M249.9 221.2h0M244.8 217.2h0M248.2 224.9h0M252.6 225.2h0M256.8 221.8h0M262.7 220.6h0M248.8 220.9h0M257.8 221.9h0M248.2 223.9h0M257.8 222.0h0M250.7 226.2h0M257.0 225.7h0M248.1 223.4h0M253.9 216.2h0M258.1 222.7h0M250.3 230.3h0M264.7 220.6h0M263.7 224.0h0M268.2 222.3h0M259.6 220.6h0M259.8 219.7h0M263.9 221.2h0M264.3 220.3h0M259.6 222.0h0M262.2 225.6h0M259.4 223.0h0M263.8 219.0h0M267.7 222.9h0M253.3 224.1h0M268.8 220.4h0M272.6 222.9h0M258.1 224.0h0M262.2 218.9h0M253.1 223.2h0M260.2 224.2h0M266.0 221.1h0M261.3 227.2h0M272.7 224.5h0M262.2 219.9h0M262.0 226.9h0M266.3 221.7h0M257.7 222.9h0M259.5 222.5h0M267.8 225.3h0M264.7 221.6h0M265.2 227.3h0M265.9 218.8h0M271.9 223.2h0M281.7 221.3h0M263.5 221.7h0M265.9 221.0h0M256.5 217.4h0M263.4 221.1h0M261.0 228.1h0M268.0 225.4h0M261.5 223.3h0M277.1 220.9h0M279.7 223.8h0M278.5 222.1h0M273.9 218.9h0M278.7 220.3h0M275.6 222.9h0M275.3 219.1h0M280.0 220.3h0M281.5 223.5h0M279.8 225.7h0M272.0 221.3h0M274.3 219.9h0M277.4 226.1h0M277.6 227.6h0M276.3 221.4h0M277.9 225.1h0M277.6 219.3h0M276.8 216.5h0M281.0 224.3h0M278.8 222.6h0M276.1 220.1h0M279.8 218.7h0M275.6 227.4h0M281.8 222.7h0M279.1 222.3h0M281.5 220.0h0M277.9 223.4h0M281.5 220.7h0M278.3 219.8h0M276.0 219.2h0M277.9 224.8h0M275.9 219.4h0M276.6 222.9h0M279.5 217.1h0M278.6 218.0h0M279.6 218.1h0M274.9 219.0h0M277.5 218.0h0M278.3 222.1h0M277.9 222.6h0M280.0 219.0h0M277.7 221.5h0M272.3 223.0h0M275.7 219.0h0M276.5 222.0h0M278.6 223.4h0M275.9 224.1h0M278.8 220.2h0M277.6 224.5h0M278.8 224.1h0M278.6 210.1h0M281.7 208.7h0M276.0 211.3h0M277.5 205.0h0M274.8 208.7h0M280.0 209.8h0M277.8 210.7h0M278.3 206.6h0M278.5 208.2h0M278.5 208.6h0M275.1 210.9h0M277.5 209.1h0M277.2 208.1h0M278.1 204.6h0M279.0 209.1h0M276.7 203.6h0" stroke="#5a8ee8" stroke-width="0.6" stroke-linecap="round" fill="none"/>
<ellipse cx="262" cy="222.6" rx="13" ry="4.2" fill="url(#cool)"/>
<ellipse cx="256.5" cy="221.6" rx="9.5" ry="3.6" fill="url(#tail)"/>
<ellipse cx="278.4" cy="207.8" rx="2.2" ry="3.4" fill="url(#cool)"/>
<ellipse cx="257.9" cy="208.9" rx="11.2" ry="5.2" fill="url(#hot1)" transform="rotate(-5 257.9 208.9)"/>
<ellipse cx="254.4" cy="209.7" rx="3.2" ry="1.2" fill="#f07a1c" opacity="0.8"/>
<ellipse cx="249.2" cy="222.2" rx="5" ry="5.8" fill="url(#hot2)"/>
<ellipse cx="247.9" cy="222.1" rx="1" ry="2.3" fill="#e0241c"/>
<ellipse cx="277.7" cy="221.6" rx="4.2" ry="6.2" fill="url(#warm)"/>
<rect x="233.70" y="179.80" width="60.20" height="60.40" stroke="#000" stroke-width="1.3" fill="none" />
<rect x="244.60" y="197.20" width="25.60" height="17.60" stroke="#000" stroke-width="1.2" fill="none" />
<text x="236.70" y="194.00" font-size="6.04" textLength="42.30" lengthAdjust="spacingAndGlyphs" fill="#1c1a1b" stroke="#1c1a1b" stroke-width="0.12">Malignant cells</text>
<line x1="232.00" y1="185.60" x2="233.70" y2="185.60" stroke="#000" stroke-width="0.7" />
<text transform="translate(232.20 186.90) scale(0.1)" font-size="36.0" text-anchor="end" fill="#000">10<tspan font-size="24.0" dy="-14.0">5</tspan></text>
<line x1="232.00" y1="197.20" x2="233.70" y2="197.20" stroke="#000" stroke-width="0.7" />
<text transform="translate(232.20 198.50) scale(0.1)" font-size="36.0" text-anchor="end" fill="#000">10<tspan font-size="24.0" dy="-14.0">4</tspan></text>
<line x1="232.00" y1="208.80" x2="233.70" y2="208.80" stroke="#000" stroke-width="0.7" />
<text transform="translate(232.20 210.10) scale(0.1)" font-size="36.0" text-anchor="end" fill="#000">10<tspan font-size="24.0" dy="-14.0">3</tspan></text>
<line x1="232.00" y1="221.10" x2="233.70" y2="221.10" stroke="#000" stroke-width="0.7" />
<text transform="translate(232.20 222.40) scale(0.1)" font-size="36.0" text-anchor="end" fill="#000">10<tspan font-size="24.0" dy="-14.0">2</tspan></text>
<line x1="232.00" y1="234.20" x2="233.70" y2="234.20" stroke="#000" stroke-width="0.7" />
<text transform="translate(232.20 235.50) scale(0.1)" font-size="36.0" text-anchor="end" fill="#000">10<tspan font-size="24.0" dy="-14.0">1</tspan></text>
<line x1="242.30" y1="240.20" x2="242.30" y2="241.60" stroke="#000" stroke-width="0.6" />
<text transform="translate(242.30 245.80) scale(0.1)" font-size="36.0" text-anchor="middle" fill="#000">-10<tspan font-size="24.0" dy="-14.0">3</tspan></text>
<line x1="248.30" y1="240.20" x2="248.30" y2="241.60" stroke="#000" stroke-width="0.6" />
<text transform="translate(248.30 245.80) scale(0.1)" font-size="36.0" text-anchor="middle" fill="#000">0</text>
<line x1="255.80" y1="240.20" x2="255.80" y2="241.60" stroke="#000" stroke-width="0.6" />
<text transform="translate(255.80 245.80) scale(0.1)" font-size="36.0" text-anchor="middle" fill="#000">10<tspan font-size="24.0" dy="-14.0">3</tspan></text>
<line x1="273.80" y1="240.20" x2="273.80" y2="241.60" stroke="#000" stroke-width="0.6" />
<text transform="translate(273.80 245.80) scale(0.1)" font-size="36.0" text-anchor="middle" fill="#000">10<tspan font-size="24.0" dy="-14.0">4</tspan></text>
<line x1="288.00" y1="240.20" x2="288.00" y2="241.60" stroke="#000" stroke-width="0.6" />
<text transform="translate(288.00 245.80) scale(0.1)" font-size="36.0" text-anchor="middle" fill="#000">10<tspan font-size="24.0" dy="-14.0">5</tspan></text>
<line x1="218.80" y1="224.70" x2="218.80" y2="186.00" stroke="#000" stroke-width="1.2" />
<path d="M218.8 180.2 L216.4 188 L221.2 188 Z" fill="#000"/>
<text transform="translate(221.40 242.90) rotate(-90)" font-size="6" textLength="18.40" lengthAdjust="spacingAndGlyphs" fill="#1c1a1b" stroke="#1c1a1b" stroke-width="0.12">TCR Vβ</text>
<text x="233.60" y="255.50" font-size="6" textLength="11.60" lengthAdjust="spacingAndGlyphs" fill="#1c1a1b" stroke="#1c1a1b" stroke-width="0.12">CD8</text>
<line x1="248.40" y1="253.30" x2="290.00" y2="253.30" stroke="#000" stroke-width="1.2" />
<path d="M295 253.3 L287.2 250.9 L287.2 255.7 Z" fill="#000"/>
<text x="213.00" y="266.90" font-size="8.6" textLength="102.00" lengthAdjust="spacingAndGlyphs" fill="#1c1a1b" stroke="#1c1a1b" stroke-width="0.12">FACS sorting of malignant cells</text>
<text x="307.10" y="220.60" font-size="7.38" textLength="27.70" lengthAdjust="spacingAndGlyphs" font-weight="bold" fill="#000" stroke="#000" stroke-width="0.3">+/- TCR</text>
<line x1="305.80" y1="226.10" x2="341.40" y2="226.10" stroke="#000" stroke-width="1.7" />
<path d="M348.00 226.10 L337.00 223.10 L337.00 229.10 Z" fill="#000"/>
<text x="306.20" y="237.00" font-size="7.28" textLength="41.80" lengthAdjust="spacingAndGlyphs" font-weight="bold" fill="#000" stroke="#000" stroke-width="0.3">Stimulation</text>
<rect x="362.00" y="177.40" width="142.70" height="29.00" stroke="#000" stroke-width="1.2" fill="none" />
<rect x="362.00" y="212.50" width="142.70" height="28.80" stroke="#000" stroke-width="1.2" fill="none" />
<rect x="362.00" y="247.60" width="142.70" height="29.00" stroke="#000" stroke-width="1.2" fill="none" />
<text x="372.00" y="190.60" font-size="7.3" textLength="123.60" lengthAdjust="spacingAndGlyphs" font-weight="bold" fill="#000" stroke="#000" stroke-width="0.3"><tspan font-style="italic">Ex vivo</tspan> functional analysis (n=14)</text>
<text x="376.30" y="199.30" font-size="5.82" textLength="49.80" lengthAdjust="spacingAndGlyphs" fill="#1c1a1b" stroke="#1c1a1b" stroke-width="0.12">Effector cytokines</text>
<text x="440.00" y="199.30" font-size="5.91" textLength="34.60" lengthAdjust="spacingAndGlyphs" fill="#1c1a1b" stroke="#1c1a1b" stroke-width="0.12">Proliferation</text>
<text x="406.60" y="229.20" font-size="7.71" textLength="55.00" lengthAdjust="spacingAndGlyphs" font-weight="bold" fill="#000" stroke="#000" stroke-width="0.3">CyTOF (n=12)</text>
<text x="405.30" y="264.50" font-size="7.4" textLength="56.30" lengthAdjust="spacingAndGlyphs" font-weight="bold" fill="#000" stroke="#000" stroke-width="0.3">RNAseq (n=22)</text>
<text x="72.00" y="315.50" font-size="7.38" textLength="32.50" lengthAdjust="spacingAndGlyphs" fill="#1c1a1b" stroke="#1c1a1b" stroke-width="0.12">Anti-CD3</text>
<text x="63.00" y="338.00" font-size="7.42" textLength="51.30" lengthAdjust="spacingAndGlyphs" fill="#1c1a1b" stroke="#1c1a1b" stroke-width="0.12">Anti-CD3/CD2</text>
<text x="60.50" y="356.30" font-size="7.42" textLength="55.80" lengthAdjust="spacingAndGlyphs" fill="#1c1a1b" stroke="#1c1a1b" stroke-width="0.12">Anti-CD3/CD28</text>
<text x="74.50" y="376.30" font-size="7.15" textLength="27.50" lengthAdjust="spacingAndGlyphs" fill="#1c1a1b" stroke="#1c1a1b" stroke-width="0.12">IL7/IL15</text>
<text x="57.00" y="397.00" font-size="7.27" textLength="63.00" lengthAdjust="spacingAndGlyphs" fill="#1c1a1b" stroke="#1c1a1b" stroke-width="0.12">IL4/IL6/IL10/TNFa</text>
<text x="167.50" y="296.80" font-size="7.23" textLength="37.00" lengthAdjust="spacingAndGlyphs" fill="#1c1a1b" stroke="#1c1a1b" stroke-width="0.12">No (NU55)</text>
<text x="252.00" y="296.80" font-size="7.32" textLength="76.00" lengthAdjust="spacingAndGlyphs" fill="#1c1a1b" stroke="#1c1a1b" stroke-width="0.12">Intermediate (NU134)</text>
<text x="373.00" y="296.80" font-size="7.26" textLength="43.30" lengthAdjust="spacingAndGlyphs" fill="#1c1a1b" stroke="#1c1a1b" stroke-width="0.12">High (NU78)</text>
<path d="M215.40 321.40 L215.40 321.40 C215.83 321.27 217.07 321.13 218.00 320.60 C218.93 320.07 219.92 319.40 221.00 318.20 C222.08 317.00 223.47 314.80 224.50 313.40 C225.53 312.00 226.40 310.70 227.20 309.80 C228.00 308.90 228.70 307.98 229.30 308.00 C229.90 308.02 230.30 308.83 230.80 309.90 C231.30 310.97 231.83 313.18 232.30 314.40 C232.77 315.62 233.22 317.20 233.60 317.20 C233.98 317.20 234.27 316.03 234.60 314.40 C234.93 312.77 235.30 308.77 235.60 307.40 C235.90 306.03 236.27 306.40 236.40 306.20 L236.40 321.40 Z" fill="#0b2aae"/>
<path d="M216.00 341.70 L216.00 341.70 C216.50 341.53 218.00 341.27 219.00 340.70 C220.00 340.13 221.07 339.23 222.00 338.30 C222.93 337.37 223.77 335.93 224.60 335.10 C225.43 334.27 226.30 334.00 227.00 333.30 C227.70 332.60 228.30 331.43 228.80 330.90 C229.30 330.37 229.57 329.80 230.00 330.10 C230.43 330.40 230.90 331.60 231.40 332.70 C231.90 333.80 232.53 335.78 233.00 336.70 C233.47 337.62 233.80 338.23 234.20 338.20 C234.60 338.17 235.03 337.05 235.40 336.50 C235.77 335.95 236.23 335.17 236.40 334.90 L236.40 341.70 Z" fill="#0b2aae"/>
<path d="M215.40 361.70 L215.40 361.70 C215.83 361.57 217.07 361.48 218.00 360.90 C218.93 360.32 220.00 359.40 221.00 358.20 C222.00 357.00 223.03 355.22 224.00 353.70 C224.97 352.18 225.97 350.20 226.80 349.10 C227.63 348.00 228.37 346.92 229.00 347.10 C229.63 347.28 230.03 348.87 230.60 350.20 C231.17 351.53 231.85 353.90 232.40 355.10 C232.95 356.30 233.43 357.30 233.90 357.40 C234.37 357.50 234.78 356.25 235.20 355.70 C235.62 355.15 236.20 354.37 236.40 354.10 L236.40 361.70 Z" fill="#0b2aae"/>
<path d="M207.70 381.70 L207.70 381.70 C208.25 381.62 209.78 381.33 211.00 381.20 C212.22 381.07 213.83 381.08 215.00 380.90 C216.17 380.72 217.08 380.63 218.00 380.10 C218.92 379.57 219.73 378.77 220.50 377.70 C221.27 376.63 221.90 374.78 222.60 373.70 C223.30 372.62 224.00 371.80 224.70 371.20 C225.40 370.60 226.08 370.82 226.80 370.10 C227.52 369.38 228.37 367.05 229.00 366.90 C229.63 366.75 230.00 367.82 230.60 369.20 C231.20 370.58 231.92 373.35 232.60 375.20 C233.28 377.05 234.07 379.55 234.70 380.30 C235.33 381.05 236.12 379.80 236.40 379.70 L236.40 381.70 Z" fill="#0b2aae"/>
<path d="M217.50 401.60 L217.50 401.60 C217.92 401.33 219.08 400.83 220.00 400.00 C220.92 399.17 222.00 397.92 223.00 396.60 C224.00 395.28 225.08 393.50 226.00 392.10 C226.92 390.70 227.83 388.45 228.50 388.20 C229.17 387.95 229.52 389.37 230.00 390.60 C230.48 391.83 231.00 394.33 231.40 395.60 C231.80 396.87 231.97 397.50 232.40 398.20 C232.83 398.90 233.33 399.40 234.00 399.80 C234.67 400.20 236.00 400.47 236.40 400.60 L236.40 401.60 Z" fill="#0b2aae"/>
<path d="M314.50 321.40 L314.50 321.40 C314.92 321.27 316.08 320.87 317.00 320.60 C317.92 320.33 319.00 320.07 320.00 319.80 C321.00 319.53 322.13 319.23 323.00 319.00 C323.87 318.77 324.60 318.83 325.20 318.40 C325.80 317.97 326.17 317.33 326.60 316.40 C327.03 315.47 327.43 313.80 327.80 312.80 C328.17 311.80 328.50 310.93 328.80 310.40 C329.10 309.87 329.32 309.63 329.60 309.60 C329.88 309.57 330.18 309.67 330.50 310.20 C330.82 310.73 331.15 311.70 331.50 312.80 C331.85 313.90 332.22 315.73 332.60 316.80 C332.98 317.87 333.23 318.63 333.80 319.20 C334.37 319.77 335.05 319.90 336.00 320.20 C336.95 320.50 338.92 320.87 339.50 321.00 L339.50 321.40 Z" fill="#38e614"/>
<path d="M312.50 341.80 L312.50 341.80 C313.08 341.60 314.75 341.00 316.00 340.60 C317.25 340.20 318.75 339.77 320.00 339.40 C321.25 339.03 322.60 338.70 323.50 338.40 C324.40 338.10 324.85 338.12 325.40 337.60 C325.95 337.08 326.38 336.33 326.80 335.30 C327.22 334.27 327.55 332.48 327.90 331.40 C328.25 330.32 328.58 329.37 328.90 328.80 C329.22 328.23 329.48 328.00 329.80 328.00 C330.12 328.00 330.47 328.10 330.80 328.80 C331.13 329.50 331.47 330.87 331.80 332.20 C332.13 333.53 332.43 335.60 332.80 336.80 C333.17 338.00 333.38 338.77 334.00 339.40 C334.62 340.03 335.58 340.25 336.50 340.60 C337.42 340.95 339.00 341.35 339.50 341.50 L339.50 341.80 Z" fill="#38e614"/>
<path d="M276.20 361.40 L276.20 361.40 C277.00 361.20 279.37 360.70 281.00 360.20 C282.63 359.70 284.58 358.97 286.00 358.40 C287.42 357.83 288.50 357.17 289.50 356.80 C290.50 356.43 291.08 356.43 292.00 356.20 C292.92 355.97 293.92 355.77 295.00 355.40 C296.08 355.03 297.57 354.37 298.50 354.00 C299.43 353.63 299.85 353.07 300.60 353.20 C301.35 353.33 302.10 354.27 303.00 354.80 C303.90 355.33 305.03 356.20 306.00 356.40 C306.97 356.60 307.88 355.87 308.80 356.00 C309.72 356.13 310.47 356.73 311.50 357.20 C312.53 357.67 313.75 358.37 315.00 358.80 C316.25 359.23 317.50 359.57 319.00 359.80 C320.50 360.03 322.33 360.10 324.00 360.20 C325.67 360.30 327.38 360.27 329.00 360.40 C330.62 360.53 332.92 360.90 333.70 361.00 L333.70 361.40 Z" fill="#38e614"/>
<path d="M300.50 381.80 L300.50 381.80 C301.42 381.70 304.25 381.40 306.00 381.20 C307.75 381.00 309.42 380.90 311.00 380.60 C312.58 380.30 314.08 379.90 315.50 379.40 C316.92 378.90 318.25 378.30 319.50 377.60 C320.75 376.90 321.98 375.93 323.00 375.20 C324.02 374.47 324.90 374.10 325.60 373.20 C326.30 372.30 326.73 370.97 327.20 369.80 C327.67 368.63 328.03 367.07 328.40 366.20 C328.77 365.33 329.07 364.83 329.40 364.60 C329.73 364.37 330.07 364.27 330.40 364.80 C330.73 365.33 331.03 366.30 331.40 367.80 C331.77 369.30 332.17 371.97 332.60 373.80 C333.03 375.63 333.53 377.63 334.00 378.80 C334.47 379.97 334.93 380.30 335.40 380.80 C335.87 381.30 336.57 381.63 336.80 381.80 L336.80 381.80 Z" fill="#38e614"/>
<path d="M315.50 401.60 L315.50 401.60 C315.92 401.37 317.08 400.63 318.00 400.20 C318.92 399.77 320.00 399.30 321.00 399.00 C322.00 398.70 323.20 398.77 324.00 398.40 C324.80 398.03 325.30 397.77 325.80 396.80 C326.30 395.83 326.63 394.13 327.00 392.60 C327.37 391.07 327.67 388.87 328.00 387.60 C328.33 386.33 328.63 385.53 329.00 385.00 C329.37 384.47 329.80 384.30 330.20 384.40 C330.60 384.50 331.02 384.57 331.40 385.60 C331.78 386.63 332.15 388.85 332.50 390.60 C332.85 392.35 333.15 394.60 333.50 396.10 C333.85 397.60 334.25 398.68 334.60 399.60 C334.95 400.52 335.43 401.27 335.60 401.60 L335.60 401.60 Z" fill="#38e614"/>
<path d="M377.00 322.50 L377.00 322.50 C377.67 322.30 379.67 321.80 381.00 321.30 C382.33 320.80 383.83 319.93 385.00 319.50 C386.17 319.07 386.83 318.77 388.00 318.70 C389.17 318.63 390.67 319.17 392.00 319.10 C393.33 319.03 394.67 318.40 396.00 318.30 C397.33 318.20 398.67 318.53 400.00 318.50 C401.33 318.47 402.67 318.13 404.00 318.10 C405.33 318.07 406.75 318.37 408.00 318.30 C409.25 318.23 410.50 318.10 411.50 317.70 C412.50 317.30 413.32 316.83 414.00 315.90 C414.68 314.97 415.10 313.60 415.60 312.10 C416.10 310.60 416.60 308.07 417.00 306.90 C417.40 305.73 417.63 305.45 418.00 305.10 C418.37 304.75 418.80 304.70 419.20 304.80 C419.60 304.90 420.00 304.75 420.40 305.70 C420.80 306.65 421.20 308.80 421.60 310.50 C422.00 312.20 422.37 314.53 422.80 315.90 C423.23 317.27 423.58 317.97 424.20 318.70 C424.82 319.43 425.53 319.83 426.50 320.30 C427.47 320.77 428.78 321.13 430.00 321.50 C431.22 321.87 433.17 322.33 433.80 322.50 L433.80 322.50 Z" fill="#c90f19"/>
<path d="M379.50 342.50 L379.50 342.50 C380.25 342.27 382.58 341.63 384.00 341.10 C385.42 340.57 386.67 339.67 388.00 339.30 C389.33 338.93 390.67 338.90 392.00 338.90 C393.33 338.90 394.67 339.33 396.00 339.30 C397.33 339.27 398.67 338.73 400.00 338.70 C401.33 338.67 402.67 339.10 404.00 339.10 C405.33 339.10 406.75 338.87 408.00 338.70 C409.25 338.53 410.50 338.47 411.50 338.10 C412.50 337.73 413.32 337.37 414.00 336.50 C414.68 335.63 415.10 334.33 415.60 332.90 C416.10 331.47 416.60 329.05 417.00 327.90 C417.40 326.75 417.65 326.38 418.00 326.00 C418.35 325.62 418.73 325.48 419.10 325.60 C419.47 325.72 419.82 325.72 420.20 326.70 C420.58 327.68 421.00 329.87 421.40 331.50 C421.80 333.13 422.17 335.23 422.60 336.50 C423.03 337.77 423.40 338.40 424.00 339.10 C424.60 339.80 425.28 340.13 426.20 340.70 C427.12 341.27 428.95 342.20 429.50 342.50 L429.50 342.50 Z" fill="#c90f19"/>
<path d="M367.00 362.50 L367.00 362.50 C367.50 362.23 368.92 361.67 370.00 360.90 C371.08 360.13 372.42 359.07 373.50 357.90 C374.58 356.73 375.42 354.90 376.50 353.90 C377.58 352.90 378.83 352.37 380.00 351.90 C381.17 351.43 382.42 351.40 383.50 351.10 C384.58 350.80 385.50 350.03 386.50 350.10 C387.50 350.17 388.50 351.20 389.50 351.50 C390.50 351.80 391.58 352.00 392.50 351.90 C393.42 351.80 394.17 350.70 395.00 350.90 C395.83 351.10 396.58 352.50 397.50 353.10 C398.42 353.70 399.50 353.87 400.50 354.50 C401.50 355.13 402.50 356.53 403.50 356.90 C404.50 357.27 405.50 356.43 406.50 356.70 C407.50 356.97 408.42 358.03 409.50 358.50 C410.58 358.97 411.75 359.10 413.00 359.50 C414.25 359.90 415.50 360.60 417.00 360.90 C418.50 361.20 420.50 361.13 422.00 361.30 C423.50 361.47 424.75 361.70 426.00 361.90 C427.25 362.10 428.92 362.40 429.50 362.50 L429.50 362.50 Z" fill="#c90f19"/>
<path d="M370.00 382.50 L370.00 382.50 C370.67 382.33 372.67 381.93 374.00 381.50 C375.33 381.07 376.75 380.43 378.00 379.90 C379.25 379.37 380.42 378.87 381.50 378.30 C382.58 377.73 383.50 377.03 384.50 376.50 C385.50 375.97 386.50 375.23 387.50 375.10 C388.50 374.97 389.50 375.77 390.50 375.70 C391.50 375.63 392.50 374.73 393.50 374.70 C394.50 374.67 395.50 375.60 396.50 375.50 C397.50 375.40 398.50 374.20 399.50 374.10 C400.50 374.00 401.50 375.03 402.50 374.90 C403.50 374.77 404.50 373.43 405.50 373.30 C406.50 373.17 407.50 374.27 408.50 374.10 C409.50 373.93 410.58 372.80 411.50 372.30 C412.42 371.80 413.25 371.67 414.00 371.10 C414.75 370.53 415.40 369.50 416.00 368.90 C416.60 368.30 417.10 367.50 417.60 367.50 C418.10 367.50 418.50 367.90 419.00 368.90 C419.50 369.90 420.02 372.00 420.60 373.50 C421.18 375.00 421.77 376.77 422.50 377.90 C423.23 379.03 423.83 379.53 425.00 380.30 C426.17 381.07 428.75 382.13 429.50 382.50 L429.50 382.50 Z" fill="#c90f19"/>
<path d="M379.50 401.60 L379.50 401.60 C380.08 401.43 381.75 400.97 383.00 400.60 C384.25 400.23 385.67 399.73 387.00 399.40 C388.33 399.07 389.67 398.80 391.00 398.60 C392.33 398.40 393.67 398.33 395.00 398.20 C396.33 398.07 397.67 397.97 399.00 397.80 C400.33 397.63 401.67 397.37 403.00 397.20 C404.33 397.03 405.75 397.00 407.00 396.80 C408.25 396.60 409.50 396.43 410.50 396.00 C411.50 395.57 412.32 395.10 413.00 394.20 C413.68 393.30 414.10 391.93 414.60 390.60 C415.10 389.27 415.60 387.20 416.00 386.20 C416.40 385.20 416.65 384.93 417.00 384.60 C417.35 384.27 417.72 384.10 418.10 384.20 C418.48 384.30 418.90 384.30 419.30 385.20 C419.70 386.10 420.08 387.93 420.50 389.60 C420.92 391.27 421.35 393.67 421.80 395.20 C422.25 396.73 422.73 397.90 423.20 398.80 C423.67 399.70 424.10 400.13 424.60 400.60 C425.10 401.07 425.93 401.43 426.20 401.60 L426.20 401.60 Z" fill="#c90f19"/>
<rect x="135.60" y="301.30" width="101.20" height="100.40" stroke="#000" stroke-width="1.3" fill="none" />
<rect x="239.60" y="301.30" width="100.90" height="100.40" stroke="#000" stroke-width="1.3" fill="none" />
<rect x="343.80" y="301.30" width="101.20" height="100.40" stroke="#000" stroke-width="1.3" fill="none" />
<path d="M148.20 401.7V404.7M168.80 401.7V404.7M189.00 401.7V404.7M209.60 401.7V404.7M230.10 401.7V404.7M133.80 401.7V403.6M137.43 401.7V403.6M140.00 401.7V403.6M142.00 401.7V403.6M143.63 401.7V403.6M145.01 401.7V403.6M146.20 401.7V403.6M147.26 401.7V403.6M154.40 401.7V403.6M158.03 401.7V403.6M160.60 401.7V403.6M162.60 401.7V403.6M164.23 401.7V403.6M165.61 401.7V403.6M166.80 401.7V403.6M167.86 401.7V403.6M175.00 401.7V403.6M178.63 401.7V403.6M181.20 401.7V403.6M183.20 401.7V403.6M184.83 401.7V403.6M186.21 401.7V403.6M187.40 401.7V403.6M188.46 401.7V403.6M195.60 401.7V403.6M199.23 401.7V403.6M201.80 401.7V403.6M203.80 401.7V403.6M205.43 401.7V403.6M206.81 401.7V403.6M208.00 401.7V403.6M209.06 401.7V403.6M216.20 401.7V403.6M219.83 401.7V403.6M222.40 401.7V403.6M224.40 401.7V403.6M226.03 401.7V403.6M227.41 401.7V403.6M228.60 401.7V403.6M229.66 401.7V403.6" stroke="#000" stroke-width="0.6" fill="none"/>
<text x="147.80" y="411.50" font-size="6" text-anchor="middle" fill="#1c1a1b" stroke="#1c1a1b" stroke-width="0.05">10<tspan font-size="3.6" dy="-2.6">1</tspan></text>
<text x="168.40" y="411.50" font-size="6" text-anchor="middle" fill="#1c1a1b" stroke="#1c1a1b" stroke-width="0.05">10<tspan font-size="3.6" dy="-2.6">2</tspan></text>
<text x="188.60" y="411.50" font-size="6" text-anchor="middle" fill="#1c1a1b" stroke="#1c1a1b" stroke-width="0.05">10<tspan font-size="3.6" dy="-2.6">3</tspan></text>
<text x="209.20" y="411.50" font-size="6" text-anchor="middle" fill="#1c1a1b" stroke="#1c1a1b" stroke-width="0.05">10<tspan font-size="3.6" dy="-2.6">4</tspan></text>
<text x="229.70" y="411.50" font-size="6" text-anchor="middle" fill="#1c1a1b" stroke="#1c1a1b" stroke-width="0.05">10<tspan font-size="3.6" dy="-2.6">5</tspan></text>
<path d="M252.10 401.7V404.7M272.60 401.7V404.7M293.00 401.7V404.7M313.80 401.7V404.7M334.40 401.7V404.7M237.77 401.7V403.6M241.38 401.7V403.6M243.94 401.7V403.6M245.93 401.7V403.6M247.55 401.7V403.6M248.92 401.7V403.6M250.11 401.7V403.6M251.16 401.7V403.6M258.27 401.7V403.6M261.88 401.7V403.6M264.44 401.7V403.6M266.43 401.7V403.6M268.05 401.7V403.6M269.42 401.7V403.6M270.61 401.7V403.6M271.66 401.7V403.6M278.77 401.7V403.6M282.38 401.7V403.6M284.94 401.7V403.6M286.93 401.7V403.6M288.55 401.7V403.6M289.92 401.7V403.6M291.11 401.7V403.6M292.16 401.7V403.6M299.27 401.7V403.6M302.88 401.7V403.6M305.44 401.7V403.6M307.43 401.7V403.6M309.05 401.7V403.6M310.42 401.7V403.6M311.61 401.7V403.6M312.66 401.7V403.6M319.77 401.7V403.6M323.38 401.7V403.6M325.94 401.7V403.6M327.93 401.7V403.6M329.55 401.7V403.6M330.92 401.7V403.6M332.11 401.7V403.6M333.16 401.7V403.6" stroke="#000" stroke-width="0.6" fill="none"/>
<text x="251.70" y="411.50" font-size="6" text-anchor="middle" fill="#1c1a1b" stroke="#1c1a1b" stroke-width="0.05">10<tspan font-size="3.6" dy="-2.6">1</tspan></text>
<text x="272.20" y="411.50" font-size="6" text-anchor="middle" fill="#1c1a1b" stroke="#1c1a1b" stroke-width="0.05">10<tspan font-size="3.6" dy="-2.6">2</tspan></text>
<text x="292.60" y="411.50" font-size="6" text-anchor="middle" fill="#1c1a1b" stroke="#1c1a1b" stroke-width="0.05">10<tspan font-size="3.6" dy="-2.6">3</tspan></text>
<text x="313.40" y="411.50" font-size="6" text-anchor="middle" fill="#1c1a1b" stroke="#1c1a1b" stroke-width="0.05">10<tspan font-size="3.6" dy="-2.6">4</tspan></text>
<text x="334.00" y="411.50" font-size="6" text-anchor="middle" fill="#1c1a1b" stroke="#1c1a1b" stroke-width="0.05">10<tspan font-size="3.6" dy="-2.6">5</tspan></text>
<path d="M356.40 401.7V404.7M377.00 401.7V404.7M397.50 401.7V404.7M417.70 401.7V404.7M438.20 401.7V404.7M342.00 401.7V403.6M345.63 401.7V403.6M348.20 401.7V403.6M350.20 401.7V403.6M351.83 401.7V403.6M353.21 401.7V403.6M354.40 401.7V403.6M355.46 401.7V403.6M362.60 401.7V403.6M366.23 401.7V403.6M368.80 401.7V403.6M370.80 401.7V403.6M372.43 401.7V403.6M373.81 401.7V403.6M375.00 401.7V403.6M376.06 401.7V403.6M383.20 401.7V403.6M386.83 401.7V403.6M389.40 401.7V403.6M391.40 401.7V403.6M393.03 401.7V403.6M394.41 401.7V403.6M395.60 401.7V403.6M396.66 401.7V403.6M403.80 401.7V403.6M407.43 401.7V403.6M410.00 401.7V403.6M412.00 401.7V403.6M413.63 401.7V403.6M415.01 401.7V403.6M416.20 401.7V403.6M417.26 401.7V403.6M424.40 401.7V403.6M428.03 401.7V403.6M430.60 401.7V403.6M432.60 401.7V403.6M434.23 401.7V403.6M435.61 401.7V403.6M436.80 401.7V403.6M437.86 401.7V403.6" stroke="#000" stroke-width="0.6" fill="none"/>
<text x="356.00" y="411.50" font-size="6" text-anchor="middle" fill="#1c1a1b" stroke="#1c1a1b" stroke-width="0.05">10<tspan font-size="3.6" dy="-2.6">1</tspan></text>
<text x="376.60" y="411.50" font-size="6" text-anchor="middle" fill="#1c1a1b" stroke="#1c1a1b" stroke-width="0.05">10<tspan font-size="3.6" dy="-2.6">2</tspan></text>
<text x="397.10" y="411.50" font-size="6" text-anchor="middle" fill="#1c1a1b" stroke="#1c1a1b" stroke-width="0.05">10<tspan font-size="3.6" dy="-2.6">3</tspan></text>
<text x="417.30" y="411.50" font-size="6" text-anchor="middle" fill="#1c1a1b" stroke="#1c1a1b" stroke-width="0.05">10<tspan font-size="3.6" dy="-2.6">4</tspan></text>
<text x="437.80" y="411.50" font-size="6" text-anchor="middle" fill="#1c1a1b" stroke="#1c1a1b" stroke-width="0.05">10<tspan font-size="3.6" dy="-2.6">5</tspan></text>
<text x="137.00" y="421.30" font-size="7" textLength="18.00" lengthAdjust="spacingAndGlyphs" fill="#1c1a1b" stroke="#1c1a1b" stroke-width="0.12">CFSE</text>
<line x1="158.80" y1="418.90" x2="444.00" y2="418.90" stroke="#000" stroke-width="1.2" />
<path d="M450 418.9 L441.2 416.1 L441.2 421.7 Z" fill="#000"/>
<rect x="38.70" y="455.30" width="117.80" height="42.70" stroke="#000" stroke-width="1.2" fill="none" />
<text x="64.00" y="474.10" font-size="8.99" textLength="65.60" lengthAdjust="spacingAndGlyphs" fill="#1c1a1b" stroke="#1c1a1b" stroke-width="0.12">DNAseq data +</text>
<text x="69.00" y="485.50" font-size="8.89" textLength="56.20" lengthAdjust="spacingAndGlyphs" fill="#1c1a1b" stroke="#1c1a1b" stroke-width="0.12">RNAseq data</text>
<line x1="156.50" y1="476.90" x2="198.00" y2="476.90" stroke="#000" stroke-width="1.2" />
<line x1="198.00" y1="463.50" x2="198.00" y2="490.40" stroke="#000" stroke-width="1.2" />
<line x1="197.40" y1="463.50" x2="236.90" y2="463.50" stroke="#000" stroke-width="1.2" />
<path d="M242.30 463.50 L233.30 461.00 L233.30 466.00 Z" fill="#000"/>
<line x1="197.40" y1="490.40" x2="236.90" y2="490.40" stroke="#000" stroke-width="1.2" />
<path d="M242.30 490.40 L233.30 487.90 L233.30 492.90 Z" fill="#000"/>
<text x="212.30" y="447.30" font-size="8.59" textLength="90.40" lengthAdjust="spacingAndGlyphs" font-weight="bold" fill="#000" stroke="#000" stroke-width="0.3">Ex vivo proliferation</text>
<text x="246.90" y="466.60" font-size="9.1" textLength="67.30" lengthAdjust="spacingAndGlyphs" fill="#2350c4" stroke="#2350c4" stroke-width="0.12">No proliferators</text>
<text x="246.90" y="493.50" font-size="9.06" textLength="74.30" lengthAdjust="spacingAndGlyphs" fill="#d2232a" stroke="#d2232a" stroke-width="0.12">High proliferators</text>
<line x1="334.30" y1="458.60" x2="334.30" y2="494.60" stroke="#000" stroke-width="1.2" />
<line x1="334.30" y1="476.90" x2="369.60" y2="476.90" stroke="#000" stroke-width="1.2" />
<path d="M375.00 476.90 L366.00 474.40 L366.00 479.40 Z" fill="#000"/>
<text x="380.80" y="471.50" font-size="7.42" textLength="114.20" lengthAdjust="spacingAndGlyphs" fill="#1c1a1b" stroke="#1c1a1b" stroke-width="0.12">Significantly different transcripts</text>
<text x="380.80" y="486.20" font-size="7.43" textLength="112.20" lengthAdjust="spacingAndGlyphs" fill="#1c1a1b" stroke="#1c1a1b" stroke-width="0.12">Significantly different mutations</text>
<path d="M86.9 652.6 L90.0 656.0 L94.0 658.8 L98.0 660.5 L102.0 661.3 L104.3 661.5 L107.0 661.3 L111.0 660.4 L115.0 658.6 L119.0 655.8 L122.0 652.6 L106.6 652.6 L104.5 659.5 L102.4 652.6 Z" fill="#000" stroke="#000" stroke-width="0.8" stroke-linejoin="round"/>
<path d="M79.3 619.5h0M85.7 619.5h0M87.8 620.6h0M77.5 624.9h0M79.3 624.9h0M85.3 632.3h0M91.0 632.8h0M85.3 637.3h0M90.6 637.3h0M97.0 637.3h0M84.6 642.6h0M86.8 643.5h0M90.0 642.0h0M96.4 640.9h0M98.5 644.1h0M97.1 648.3h0M87.2 650.1h0M87.1 645.3h0M95.1 647.6h0M93.9 648.5h0M88.8 648.5h0M90.0 640.0h0M86.6 650.7h0M86.3 651.6h0M96.8 648.8h0M90.2 649.8h0M89.3 651.6h0M97.9 651.5h0M89.5 651.9h0M88.4 647.4h0M89.6 649.8h0M92.4 651.8h0M84.9 651.1h0M87.1 648.2h0M90.1 650.7h0M99.3 651.2h0M86.8 646.0h0M96.8 651.8h0M86.2 650.0h0M94.1 648.9h0M89.6 649.4h0M96.2 649.1h0M88.3 647.1h0M89.1 648.6h0M91.4 645.0h0M94.2 647.2h0M97.9 649.5h0M91.3 650.2h0M95.4 647.4h0M93.7 650.4h0M90.3 648.3h0M93.1 649.3h0M92.6 645.7h0M98.3 651.7h0M88.1 650.1h0M93.3 647.1h0M98.1 650.2h0M97.1 649.1h0M91.7 648.8h0M101.6 651.1h0M85.2 650.0h0M93.8 649.5h0M90.3 650.9h0M87.6 652.0h0M94.1 651.9h0M93.2 646.3h0M96.1 650.4h0M96.6 648.9h0M93.1 648.9h0M86.8 649.0h0M100.5 651.7h0M92.1 649.3h0M95.6 648.9h0M101.5 650.1h0M100.0 651.6h0M87.0 649.9h0M89.4 650.8h0M90.7 646.8h0M97.7 649.9h0M84.5 650.3h0M97.3 649.9h0M86.8 650.2h0M99.1 648.0h0M94.2 651.7h0M85.8 650.9h0M87.1 647.3h0M91.0 649.9h0M84.8 651.7h0M99.5 649.2h0M98.5 651.6h0M88.8 650.6h0M94.8 647.9h0M89.8 648.1h0M87.1 649.5h0M95.3 651.3h0M94.2 648.7h0M88.9 646.0h0M85.6 651.0h0M92.9 649.1h0M88.7 650.8h0M95.5 649.1h0M91.1 651.1h0M90.5 649.8h0" stroke="#1735b5" stroke-width="2.2" stroke-linecap="round" fill="none"/>
<path d="M117.6 650.7h0M122.7 634.3h0M115.0 651.4h0M125.8 641.7h0M128.7 633.2h0M129.5 630.7h0M115.4 650.9h0M120.8 648.7h0M130.4 631.9h0M123.0 636.4h0M123.4 637.2h0M115.6 648.8h0M132.7 618.0h0M126.3 641.7h0M123.5 650.9h0M119.8 647.0h0M114.7 645.4h0M130.5 628.7h0M110.0 650.0h0M122.8 646.8h0M131.9 624.6h0M120.5 644.5h0M124.8 640.3h0M124.6 637.1h0M116.0 651.1h0M122.7 640.1h0M121.0 649.6h0M124.5 646.4h0M125.4 640.1h0M114.1 651.9h0M124.5 636.4h0M112.2 647.7h0M123.5 638.9h0M117.0 648.6h0M121.7 642.2h0M117.9 644.4h0M128.8 638.9h0M111.1 650.9h0M117.8 644.9h0M120.4 644.9h0M130.0 633.0h0M120.4 643.7h0M118.6 639.9h0M125.7 643.0h0M117.4 647.6h0M112.3 651.3h0M124.7 646.8h0M120.1 638.2h0M122.0 646.4h0M127.4 642.2h0M121.2 643.7h0M130.6 626.6h0M125.3 646.4h0M126.3 632.6h0M127.9 631.7h0M110.2 651.9h0M122.9 651.2h0M124.3 637.7h0M124.4 643.4h0M119.6 647.5h0M119.5 640.3h0M127.5 638.3h0M127.3 639.6h0M121.2 646.3h0M128.2 630.8h0M125.5 647.2h0M128.1 632.0h0M120.0 650.2h0M129.7 633.9h0M116.4 646.6h0M112.6 648.5h0M116.1 650.9h0M121.5 648.4h0M127.9 640.4h0M115.6 647.3h0M115.7 651.7h0M121.0 637.9h0M119.8 649.6h0M122.9 644.2h0M121.8 636.9h0M128.3 637.2h0M118.0 643.5h0M125.1 648.0h0M121.1 642.6h0M117.0 642.4h0M116.5 646.4h0M128.3 641.4h0M119.3 646.7h0M127.5 643.1h0M120.4 640.8h0M130.1 620.2h0M127.1 643.5h0M115.1 646.3h0M122.3 648.6h0M124.9 639.2h0M117.5 647.4h0M125.0 633.9h0M130.6 632.8h0M120.3 648.7h0M119.4 649.7h0M129.3 628.4h0M114.2 647.8h0M120.3 639.2h0M128.6 625.2h0M126.0 637.3h0M117.9 641.7h0M115.2 651.5h0M130.0 634.3h0M122.6 641.4h0M115.9 651.7h0M125.1 635.5h0M129.7 630.2h0M121.4 648.4h0M124.3 643.6h0M123.6 644.6h0M124.8 646.5h0M130.1 623.9h0M132.1 623.1h0M128.8 633.7h0M126.1 638.5h0M120.1 646.0h0M126.5 635.7h0M123.4 646.1h0M116.8 647.2h0M132.3 620.4h0M125.5 644.1h0M125.9 642.1h0M123.8 642.3h0M119.4 640.4h0M123.9 643.2h0M124.0 638.0h0M121.6 651.4h0M123.7 637.7h0M118.0 643.8h0M121.2 646.3h0M113.0 649.8h0M118.4 643.7h0M116.0 649.2h0M116.4 650.9h0M131.1 615.8h0M123.5 645.9h0M114.6 648.7h0M124.5 648.8h0M119.3 652.0h0M125.1 640.9h0M110.1 651.0h0M108.6 651.4h0M123.6 646.5h0M119.4 648.6h0M112.9 650.7h0M124.8 641.5h0M124.8 642.8h0M125.9 636.6h0M112.7 649.1h0M128.6 636.1h0M115.8 643.9h0M120.4 651.4h0M122.4 649.8h0M126.7 633.7h0M129.3 638.2h0M123.9 645.8h0M112.4 649.2h0M123.8 650.2h0M114.6 650.9h0M125.6 632.3h0M129.1 636.8h0M133.5 615.6h0M116.1 646.5h0M118.8 641.1h0M129.2 636.2h0M117.8 648.2h0M122.9 644.2h0M116.8 649.1h0M122.2 639.2h0M130.7 630.8h0M125.8 647.0h0M116.9 643.4h0M131.0 620.2h0M128.7 629.4h0M124.7 646.1h0M117.8 642.5h0M123.2 644.8h0M128.8 623.3h0M118.4 648.3h0M126.2 634.4h0M110.7 648.9h0M124.6 642.0h0M121.5 643.0h0M124.6 649.1h0M115.1 651.1h0M111.4 649.9h0M113.2 651.6h0M129.8 626.6h0M125.6 630.1h0M112.3 650.6h0M129.5 628.4h0M123.0 644.5h0M127.9 634.3h0M124.2 638.2h0M125.3 647.8h0M124.9 645.2h0M120.1 649.4h0M119.9 649.7h0M126.3 635.2h0M116.8 646.3h0M120.0 644.7h0M131.2 619.7h0M120.0 641.5h0M117.0 643.1h0M123.6 647.2h0M123.1 651.4h0M118.0 650.7h0M125.2 647.8h0M111.1 650.8h0M117.0 642.7h0M124.3 633.9h0M120.2 648.9h0M116.1 648.9h0M111.4 650.6h0M116.1 644.7h0M125.5 634.1h0M125.0 630.1h0M120.8 650.0h0M126.6 634.9h0M119.6 648.1h0M125.1 646.9h0M118.2 644.8h0M109.4 650.1h0M123.9 640.1h0M133.8 610.0h0M125.0 640.4h0M124.2 636.8h0M115.5 648.0h0M121.2 651.1h0M118.1 644.8h0M128.7 636.6h0M118.2 647.3h0M114.6 645.8h0M129.1 622.3h0M121.6 640.1h0M127.1 641.0h0M119.1 643.9h0M119.2 646.2h0M119.8 646.9h0M125.5 647.1h0M117.6 649.1h0M119.1 645.5h0M116.2 643.5h0M129.7 634.9h0M115.7 649.9h0M125.4 638.2h0M127.4 630.5h0M111.6 649.2h0M115.8 650.2h0M129.2 626.5h0M120.8 637.4h0M125.4 633.8h0M120.0 649.3h0M126.1 631.3h0M111.5 649.7h0M126.9 642.4h0M119.5 643.0h0M128.0 640.9h0M125.6 647.0h0M121.4 639.8h0M119.4 644.7h0M117.3 649.6h0M115.3 647.8h0M117.3 648.3h0M124.2 646.2h0M126.3 642.8h0M127.0 635.0h0M124.8 647.5h0M112.9 650.3h0M125.2 648.1h0M119.9 643.2h0M109.7 651.1h0M127.3 642.5h0M125.0 639.0h0M119.5 650.2h0M124.9 646.0h0M109.3 650.1h0M119.2 650.8h0M126.3 638.9h0M128.0 638.2h0M121.0 640.6h0M121.6 646.1h0M113.9 648.9h0M121.3 644.5h0M111.0 650.0h0M124.5 639.9h0M123.6 643.2h0M123.9 649.9h0M120.5 648.9h0M130.4 621.6h0M126.4 640.9h0M126.9 630.8h0M114.3 651.5h0M126.5 635.3h0M121.8 648.7h0M117.4 649.2h0M119.8 638.9h0M127.1 643.7h0M123.8 647.5h0M115.2 646.3h0M114.5 646.3h0M118.7 646.9h0M115.7 643.6h0M117.6 644.9h0M122.4 650.6h0M118.7 646.8h0M128.7 637.6h0M113.7 650.2h0M127.2 637.5h0M113.4 648.8h0M119.4 651.5h0M124.4 640.0h0M129.3 632.4h0M115.4 649.3h0M121.0 640.1h0M118.3 640.5h0M108.5 651.4h0M118.5 646.6h0M121.7 637.0h0M130.6 616.9h0M125.4 642.1h0M118.5 648.0h0M112.7 647.7h0M126.4 638.8h0M123.5 645.4h0M122.6 644.1h0M128.9 630.3h0M125.2 636.5h0M119.8 647.7h0M110.4 651.6h0M126.3 643.1h0M124.1 644.0h0M127.6 639.4h0M118.1 650.1h0M118.0 642.0h0M125.3 638.4h0M118.7 650.2h0M124.8 644.0h0M114.1 647.3h0M126.2 646.2h0M125.0 647.8h0M120.8 646.0h0M126.9 644.2h0M131.3 617.7h0M112.6 648.1h0M111.1 651.7h0M121.6 642.0h0M127.6 634.5h0M124.8 647.3h0M113.8 649.7h0M124.5 647.1h0M114.8 645.5h0M114.0 649.5h0M125.8 642.2h0M125.4 641.6h0M123.8 644.3h0M121.2 643.1h0M124.3 642.6h0M125.0 646.1h0M124.0 641.9h0M123.2 638.8h0M116.6 642.5h0M123.7 642.6h0M131.2 629.9h0M113.7 648.2h0M110.7 634.0h0M112.4 639.8h0M108.8 643.1h0M117.8 630.7h0M122.0 628.5h0M124.2 627.1h0M126.3 624.9h0M107.5 648.0h0M110.0 646.0h0M142.8 547.2h0M139.2 572.0h0M136.6 582.5h0M136.4 585.9h0M134.9 597.0h0M133.8 597.6h0M135.3 600.9h0M133.4 601.3h0M133.8 604.5h0M132.8 606.7h0M134.5 607.7h0M132.3 609.9h0M133.8 613.1h0M131.7 614.2h0M132.8 617.4h0M130.6 617.4h0M131.0 620.6h0M128.9 620.2h0M131.7 622.7h0M128.5 623.8h0M130.6 625.9h0" stroke="#c90f19" stroke-width="2.2" stroke-linecap="round" fill="none"/>
<rect x="44.50" y="520.50" width="121.10" height="145.10" stroke="#000" stroke-width="1.3" fill="none" />
<line x1="41.30" y1="660.80" x2="44.50" y2="660.80" stroke="#000" stroke-width="1.2" />
<text x="38.30" y="663.70" font-size="8.2" text-anchor="end" fill="#1c1a1b" stroke="#1c1a1b" stroke-width="0.12">0</text>
<line x1="41.30" y1="627.10" x2="44.50" y2="627.10" stroke="#000" stroke-width="1.2" />
<text x="38.30" y="630.00" font-size="8.2" text-anchor="end" fill="#1c1a1b" stroke="#1c1a1b" stroke-width="0.12">5</text>
<line x1="41.30" y1="593.40" x2="44.50" y2="593.40" stroke="#000" stroke-width="1.2" />
<text x="38.30" y="596.30" font-size="8.2" text-anchor="end" fill="#1c1a1b" stroke="#1c1a1b" stroke-width="0.12">10</text>
<line x1="41.30" y1="559.70" x2="44.50" y2="559.70" stroke="#000" stroke-width="1.2" />
<text x="38.30" y="562.60" font-size="8.2" text-anchor="end" fill="#1c1a1b" stroke="#1c1a1b" stroke-width="0.12">15</text>
<line x1="41.30" y1="526.00" x2="44.50" y2="526.00" stroke="#000" stroke-width="1.2" />
<text x="38.30" y="528.90" font-size="8.2" text-anchor="end" fill="#1c1a1b" stroke="#1c1a1b" stroke-width="0.12">20</text>
<line x1="48.90" y1="665.60" x2="48.90" y2="668.90" stroke="#000" stroke-width="1.2" />
<text x="47.30" y="678.00" font-size="8" text-anchor="middle" fill="#1c1a1b" stroke="#1c1a1b" stroke-width="0.12">−10</text>
<line x1="76.65" y1="665.60" x2="76.65" y2="668.90" stroke="#000" stroke-width="1.2" />
<text x="75.05" y="678.00" font-size="8" text-anchor="middle" fill="#1c1a1b" stroke="#1c1a1b" stroke-width="0.12">−5</text>
<line x1="104.40" y1="665.60" x2="104.40" y2="668.90" stroke="#000" stroke-width="1.2" />
<text x="104.40" y="678.00" font-size="8" text-anchor="middle" fill="#1c1a1b" stroke="#1c1a1b" stroke-width="0.12">0</text>
<line x1="132.15" y1="665.60" x2="132.15" y2="668.90" stroke="#000" stroke-width="1.2" />
<text x="132.15" y="678.00" font-size="8" text-anchor="middle" fill="#1c1a1b" stroke="#1c1a1b" stroke-width="0.12">5</text>
<line x1="159.90" y1="665.60" x2="159.90" y2="668.90" stroke="#000" stroke-width="1.2" />
<text x="159.90" y="678.00" font-size="8" text-anchor="middle" fill="#1c1a1b" stroke="#1c1a1b" stroke-width="0.12">10</text>
<text transform="translate(23.90 635.00) rotate(-90)" font-size="9.2" textLength="84.50" lengthAdjust="spacingAndGlyphs" fill="#1c1a1b" stroke="#1c1a1b" stroke-width="0.12">-Log<tspan font-size="6.4" dy="1.6">10</tspan><tspan dy="-1.6">(Adjusted </tspan><tspan font-style="italic">P</tspan> value)</text>
<text x="73.30" y="691.50" font-size="9.2" textLength="62.80" lengthAdjust="spacingAndGlyphs" fill="#1c1a1b" stroke="#1c1a1b" stroke-width="0.12">Log<tspan font-size="6.4" dy="1.6">2</tspan><tspan dy="-1.6"> (Fold change)</tspan></text>
<path d="M53.4 528.4h0" stroke="#1735b5" stroke-width="4.6" stroke-linecap="round" fill="none"/>
<path d="M53.4 536.8h0" stroke="#c90f19" stroke-width="4.6" stroke-linecap="round" fill="none"/>
<text x="58.80" y="530.10" font-size="6.29" textLength="78.90" lengthAdjust="spacingAndGlyphs" fill="#1c1a1b" stroke="#1c1a1b" stroke-width="0.12">Enriched in no proliferators</text>
<text x="58.80" y="538.50" font-size="6.33" textLength="85.00" lengthAdjust="spacingAndGlyphs" fill="#1c1a1b" stroke="#1c1a1b" stroke-width="0.12">Enriched in high proliferators</text>
<text x="64.00" y="607.90" font-size="7.6" textLength="26.40" lengthAdjust="spacingAndGlyphs" fill="#1c1a1b" stroke="#1c1a1b" stroke-width="0.12">PDCD1</text>
<line x1="79.60" y1="610.20" x2="79.60" y2="617.40" stroke="#000" stroke-width="1.0" />
<text x="47.30" y="645.70" font-size="7.6" textLength="28.80" lengthAdjust="spacingAndGlyphs" fill="#1c1a1b" stroke="#1c1a1b" stroke-width="0.12">CXCL13</text>
<line x1="77.60" y1="626.00" x2="71.20" y2="637.60" stroke="#000" stroke-width="1.0" />
<text x="135.30" y="646.20" font-size="7.6" textLength="27.40" lengthAdjust="spacingAndGlyphs" fill="#1c1a1b" stroke="#1c1a1b" stroke-width="0.12">FOXM1</text>
<line x1="132.40" y1="646.80" x2="120.00" y2="651.10" stroke="#000" stroke-width="1.0" />
<text x="259.80" y="544.60" font-size="7.4" textLength="42.50" lengthAdjust="spacingAndGlyphs" fill="#1c1a1b" stroke="#1c1a1b" stroke-width="0.12"><tspan font-style="italic">PD1</tspan> protein</text>
<text x="261.90" y="554.50" font-size="7.32" textLength="38.30" lengthAdjust="spacingAndGlyphs" fill="#1c1a1b" stroke="#1c1a1b" stroke-width="0.12"><tspan font-style="italic">P</tspan> = 0.0013</text>
<line x1="243.90" y1="566.00" x2="243.90" y2="667.20" stroke="#000" stroke-width="1.3" />
<line x1="241.70" y1="666.60" x2="317.70" y2="666.60" stroke="#000" stroke-width="1.3" />
<line x1="241.00" y1="566.70" x2="243.90" y2="566.70" stroke="#000" stroke-width="1.2" />
<text x="238.00" y="569.40" font-size="7.7" text-anchor="end" fill="#1c1a1b" stroke="#1c1a1b" stroke-width="0.12">80</text>
<line x1="241.00" y1="591.70" x2="243.90" y2="591.70" stroke="#000" stroke-width="1.2" />
<text x="238.00" y="594.40" font-size="7.7" text-anchor="end" fill="#1c1a1b" stroke="#1c1a1b" stroke-width="0.12">60</text>
<line x1="241.00" y1="616.70" x2="243.90" y2="616.70" stroke="#000" stroke-width="1.2" />
<text x="238.00" y="619.40" font-size="7.7" text-anchor="end" fill="#1c1a1b" stroke="#1c1a1b" stroke-width="0.12">40</text>
<line x1="241.00" y1="641.60" x2="243.90" y2="641.60" stroke="#000" stroke-width="1.2" />
<text x="238.00" y="644.30" font-size="7.7" text-anchor="end" fill="#1c1a1b" stroke="#1c1a1b" stroke-width="0.12">20</text>
<line x1="241.00" y1="666.60" x2="243.90" y2="666.60" stroke="#000" stroke-width="1.2" />
<text x="238.00" y="669.30" font-size="7.7" text-anchor="end" fill="#1c1a1b" stroke="#1c1a1b" stroke-width="0.12">0</text>
<text transform="translate(223.40 640.40) rotate(-90)" font-size="9" textLength="46.80" lengthAdjust="spacingAndGlyphs" fill="#1c1a1b" stroke="#1c1a1b" stroke-width="0.12">Frequency (%)</text>
<rect x="254.90" y="617.30" width="21.60" height="49.30" stroke="#1735b5" stroke-width="1.6" fill="#fff" />
<line x1="265.70" y1="607.10" x2="265.70" y2="628.10" stroke="#1735b5" stroke-width="1.5" />
<line x1="260.30" y1="607.10" x2="271.10" y2="607.10" stroke="#1735b5" stroke-width="1.5" />
<line x1="260.30" y1="628.10" x2="271.10" y2="628.10" stroke="#1735b5" stroke-width="1.5" />
<rect x="264.3" y="589.8" width="3.8" height="3.8" fill="#1735b5"/>
<rect x="264.3" y="599.8" width="3.8" height="3.8" fill="#1735b5"/>
<rect x="264.3" y="614.9" width="3.8" height="3.8" fill="#1735b5"/>
<rect x="264.3" y="624.0" width="3.8" height="3.8" fill="#1735b5"/>
<rect x="264.3" y="651.0" width="3.8" height="3.8" fill="#1735b5"/>
<rect x="286.50" y="662.20" width="21.10" height="4.40" stroke="#c90f19" stroke-width="1.6" fill="#fff" />
<rect x="295.6" y="654.5" width="3.8" height="3.8" fill="#c90f19"/>
<rect x="291.0" y="660.1" width="3.8" height="3.8" fill="#c90f19"/>
<rect x="293.9" y="660.7" width="3.8" height="3.8" fill="#c90f19"/>
<rect x="297.7" y="660.1" width="3.8" height="3.8" fill="#c90f19"/>
<rect x="300.4" y="660.7" width="3.8" height="3.8" fill="#c90f19"/>
<line x1="266.00" y1="667.00" x2="266.00" y2="668.60" stroke="#000" stroke-width="1.0" />
<line x1="297.00" y1="667.00" x2="297.00" y2="668.60" stroke="#000" stroke-width="1.0" />
<text x="259.80" y="678.40" font-size="7.66" textLength="10.70" lengthAdjust="spacingAndGlyphs" fill="#1c1a1b" stroke="#1c1a1b" stroke-width="0.12">No</text>
<text x="288.90" y="678.40" font-size="7.37" textLength="16.10" lengthAdjust="spacingAndGlyphs" fill="#1c1a1b" stroke="#1c1a1b" stroke-width="0.12">High</text>
<text x="406.30" y="545.20" font-size="7.34" textLength="60.90" lengthAdjust="spacingAndGlyphs" fill="#1c1a1b" stroke="#1c1a1b" stroke-width="0.12"><tspan font-style="italic">PDCD1</tspan> deletions</text>
<text x="419.80" y="554.80" font-size="7.28" textLength="33.60" lengthAdjust="spacingAndGlyphs" fill="#1c1a1b" stroke="#1c1a1b" stroke-width="0.12"><tspan font-style="italic">P</tspan> = 0.015</text>
<line x1="401.70" y1="562.10" x2="401.70" y2="668.00" stroke="#000" stroke-width="1.3" />
<line x1="399.60" y1="667.40" x2="471.20" y2="667.40" stroke="#000" stroke-width="1.3" />
<line x1="398.80" y1="562.70" x2="401.70" y2="562.70" stroke="#000" stroke-width="1.2" />
<text x="395.80" y="565.40" font-size="7.7" text-anchor="end" fill="#1c1a1b" stroke="#1c1a1b" stroke-width="0.12">100</text>
<line x1="398.80" y1="583.50" x2="401.70" y2="583.50" stroke="#000" stroke-width="1.2" />
<text x="395.80" y="586.20" font-size="7.7" text-anchor="end" fill="#1c1a1b" stroke="#1c1a1b" stroke-width="0.12">80</text>
<line x1="398.80" y1="604.50" x2="401.70" y2="604.50" stroke="#000" stroke-width="1.2" />
<text x="395.80" y="607.20" font-size="7.7" text-anchor="end" fill="#1c1a1b" stroke="#1c1a1b" stroke-width="0.12">60</text>
<line x1="398.80" y1="625.40" x2="401.70" y2="625.40" stroke="#000" stroke-width="1.2" />
<text x="395.80" y="628.10" font-size="7.7" text-anchor="end" fill="#1c1a1b" stroke="#1c1a1b" stroke-width="0.12">40</text>
<line x1="398.80" y1="646.40" x2="401.70" y2="646.40" stroke="#000" stroke-width="1.2" />
<text x="395.80" y="649.10" font-size="7.7" text-anchor="end" fill="#1c1a1b" stroke="#1c1a1b" stroke-width="0.12">20</text>
<line x1="398.80" y1="667.40" x2="401.70" y2="667.40" stroke="#000" stroke-width="1.2" />
<text x="395.80" y="670.10" font-size="7.7" text-anchor="end" fill="#1c1a1b" stroke="#1c1a1b" stroke-width="0.12">0</text>
<text transform="translate(378.00 639.00) rotate(-90)" font-size="9" textLength="47.30" lengthAdjust="spacingAndGlyphs" fill="#1c1a1b" stroke="#1c1a1b" stroke-width="0.12">Frequency (%)</text>
<rect x="441.80" y="580.40" width="20.00" height="87.00" stroke="#c90f19" stroke-width="1.6" fill="#fff" />
<line x1="449.30" y1="580.40" x2="453.70" y2="580.40" stroke="#c90f19" stroke-width="2.0" />
<rect x="450.1" y="579.2" width="2.8" height="2.4" fill="#c90f19"/>
<line x1="421.40" y1="667.80" x2="421.40" y2="669.60" stroke="#000" stroke-width="1.0" />
<line x1="451.50" y1="667.80" x2="451.50" y2="669.60" stroke="#000" stroke-width="1.0" />
<path d="M421.4 667.4h0" stroke="#1735b5" stroke-width="3.8" stroke-linecap="round" fill="none"/>
<text x="416.50" y="679.20" font-size="7.49" textLength="10.30" lengthAdjust="spacingAndGlyphs" fill="#1c1a1b" stroke="#1c1a1b" stroke-width="0.12">No</text>
<text x="443.50" y="679.20" font-size="7.53" textLength="16.70" lengthAdjust="spacingAndGlyphs" fill="#1c1a1b" stroke="#1c1a1b" stroke-width="0.12">High</text>
</svg>
</body></html>
